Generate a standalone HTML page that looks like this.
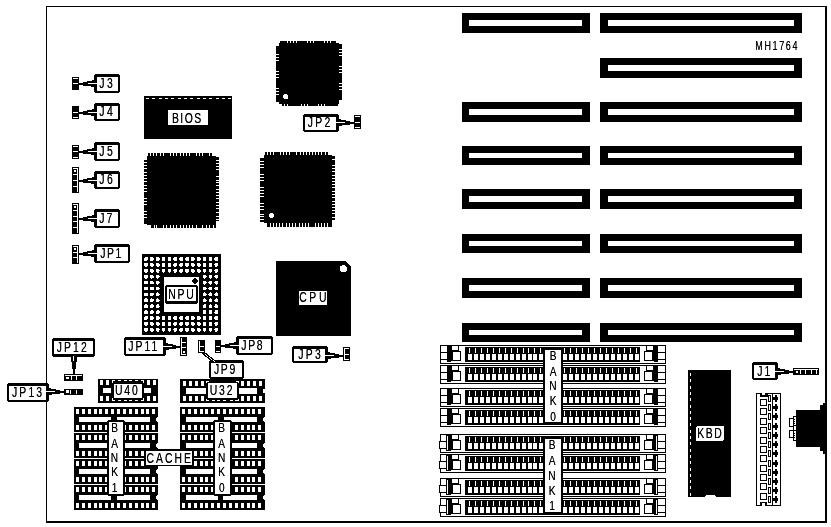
<!DOCTYPE html>
<html><head><meta charset="utf-8"><style>
html,body{margin:0;padding:0;background:#fff;}
svg{display:block;}
text{font-family:"Liberation Sans",sans-serif;}
</style></head><body>
<svg width="831" height="527" viewBox="0 0 831 527" shape-rendering="crispEdges">
<defs><filter id="bin" x="0" y="0" width="831" height="527" filterUnits="userSpaceOnUse" color-interpolation-filters="sRGB">
<feColorMatrix type="matrix" values="0.3 0.59 0.11 0 0  0.3 0.59 0.11 0 0  0.3 0.59 0.11 0 0  0 0 0 1 0"/>
<feComponentTransfer><feFuncR type="gamma" amplitude="1" exponent="1.6" offset="0"/><feFuncG type="gamma" amplitude="1" exponent="1.6" offset="0"/><feFuncB type="gamma" amplitude="1" exponent="1.6" offset="0"/></feComponentTransfer>
</filter></defs>
<g filter="url(#bin)">
<rect x="0" y="0" width="831" height="527" fill="#fff"/>
<rect x="46" y="6" width="781" height="1" fill="#000"/>
<rect x="46" y="6" width="1" height="517" fill="#000"/>
<rect x="825" y="6" width="2" height="517" fill="#000"/>
<rect x="46" y="521" width="781" height="2" fill="#000"/>
<rect x="462" y="13" width="128" height="20" fill="#000"/>
<rect x="469" y="20" width="113" height="6" fill="#fff"/>
<rect x="600" y="13" width="202" height="20" fill="#000"/>
<rect x="608" y="20" width="186" height="6" fill="#fff"/>
<rect x="600" y="58" width="202" height="20" fill="#000"/>
<rect x="608" y="65" width="186" height="6" fill="#fff"/>
<rect x="462" y="102" width="128" height="20" fill="#000"/>
<rect x="469" y="109" width="113" height="6" fill="#fff"/>
<rect x="600" y="102" width="202" height="20" fill="#000"/>
<rect x="608" y="109" width="186" height="6" fill="#fff"/>
<rect x="462" y="146" width="128" height="19" fill="#000"/>
<rect x="469" y="153" width="113" height="5" fill="#fff"/>
<rect x="600" y="146" width="202" height="19" fill="#000"/>
<rect x="608" y="153" width="186" height="5" fill="#fff"/>
<rect x="462" y="189" width="128" height="20" fill="#000"/>
<rect x="469" y="196" width="113" height="6" fill="#fff"/>
<rect x="600" y="189" width="202" height="20" fill="#000"/>
<rect x="608" y="196" width="186" height="6" fill="#fff"/>
<rect x="462" y="234" width="128" height="19" fill="#000"/>
<rect x="469" y="241" width="113" height="5" fill="#fff"/>
<rect x="600" y="234" width="202" height="19" fill="#000"/>
<rect x="608" y="241" width="186" height="5" fill="#fff"/>
<rect x="462" y="278" width="128" height="20" fill="#000"/>
<rect x="469" y="285" width="113" height="6" fill="#fff"/>
<rect x="600" y="278" width="202" height="20" fill="#000"/>
<rect x="608" y="285" width="186" height="6" fill="#fff"/>
<rect x="462" y="323" width="128" height="19" fill="#000"/>
<rect x="469" y="330" width="113" height="5" fill="#fff"/>
<rect x="600" y="323" width="202" height="19" fill="#000"/>
<rect x="608" y="330" width="186" height="5" fill="#fff"/>
<text transform="translate(756,50) scale(0.72,1)" x="-1" y="0" textLength="58.5444" lengthAdjust="spacing" font-size="12.5" fill="#000" >MH1764</text>
<rect x="72" y="77" width="7" height="13" fill="#000"/>
<rect x="73" y="78" width="5" height="1" fill="#fff"/>
<rect x="73" y="83" width="5" height="1" fill="#fff"/>
<rect x="94" y="74" width="26" height="19" rx="3" fill="#000"/>
<rect x="97" y="77" width="21" height="14" fill="#fff"/>
<text transform="translate(100,88) scale(0.72,1)" x="-1" y="0" textLength="18.9611" lengthAdjust="spacing" font-size="14.5" fill="#000" >J3</text>
<polygon points="79,83 83,83 83,82 87,82 87,81 92,81 92,80 95,80 95,87 91,87 91,86 83,86 83,85 79,85" fill="#000"/>
<rect x="88" y="83" width="9" height="1" fill="#fff"/>
<rect x="72" y="106" width="7" height="13" fill="#000"/>
<rect x="73" y="112" width="5" height="1" fill="#fff"/>
<rect x="73" y="117" width="5" height="1" fill="#fff"/>
<rect x="94" y="103" width="26" height="18" rx="3" fill="#000"/>
<rect x="97" y="106" width="21" height="13" fill="#fff"/>
<text transform="translate(100,116) scale(0.72,1)" x="-1" y="0" textLength="18.9611" lengthAdjust="spacing" font-size="14.5" fill="#000" >J4</text>
<polygon points="79,112 83,112 83,111 87,111 87,110 92,110 92,109 95,109 95,116 91,116 91,115 83,115 83,114 79,114" fill="#000"/>
<rect x="88" y="112" width="9" height="1" fill="#fff"/>
<rect x="72" y="145" width="7" height="14" fill="#000"/>
<rect x="73" y="146" width="5" height="1" fill="#fff"/>
<rect x="73" y="151" width="5" height="1" fill="#fff"/>
<rect x="73" y="157" width="5" height="1" fill="#fff"/>
<rect x="94" y="142" width="26" height="19" rx="3" fill="#000"/>
<rect x="97" y="145" width="21" height="14" fill="#fff"/>
<text transform="translate(100,156) scale(0.72,1)" x="-1" y="0" textLength="18.9611" lengthAdjust="spacing" font-size="14.5" fill="#000" >J5</text>
<polygon points="79,151 83,151 83,150 87,150 87,149 92,149 92,148 95,148 95,155 91,155 91,154 83,154 83,153 79,153" fill="#000"/>
<rect x="88" y="151" width="9" height="1" fill="#fff"/>
<rect x="72" y="167" width="7" height="26" fill="#000"/>
<rect x="77" y="168" width="1" height="24" fill="#fff"/>
<rect x="73" y="168" width="5" height="1" fill="#fff"/>
<rect x="73" y="174" width="5" height="1" fill="#fff"/>
<rect x="73" y="180" width="5" height="1" fill="#fff"/>
<rect x="73" y="186" width="5" height="1" fill="#fff"/>
<rect x="74" y="170" width="2" height="2" fill="#fff"/>
<rect x="94" y="171" width="26" height="18" rx="3" fill="#000"/>
<rect x="97" y="174" width="21" height="13" fill="#fff"/>
<text transform="translate(100,184) scale(0.72,1)" x="-1" y="0" textLength="18.9611" lengthAdjust="spacing" font-size="14.5" fill="#000" >J6</text>
<polygon points="79,180 83,180 83,179 87,179 87,178 92,178 92,177 95,177 95,184 91,184 91,183 83,183 83,182 79,182" fill="#000"/>
<rect x="88" y="180" width="9" height="1" fill="#fff"/>
<rect x="72" y="203" width="7" height="31" fill="#000"/>
<rect x="77" y="204" width="1" height="29" fill="#fff"/>
<rect x="73" y="204" width="5" height="1" fill="#fff"/>
<rect x="73" y="210" width="5" height="1" fill="#fff"/>
<rect x="73" y="216" width="5" height="1" fill="#fff"/>
<rect x="73" y="221" width="5" height="1" fill="#fff"/>
<rect x="73" y="227" width="5" height="1" fill="#fff"/>
<rect x="74" y="206" width="2" height="2" fill="#fff"/>
<rect x="94" y="209" width="26" height="19" rx="3" fill="#000"/>
<rect x="97" y="212" width="21" height="14" fill="#fff"/>
<text transform="translate(100,223) scale(0.72,1)" x="-1" y="0" textLength="18.2667" lengthAdjust="spacing" font-size="14.5" fill="#000" >J7</text>
<polygon points="79,218 83,218 83,217 87,217 87,216 92,216 92,215 95,215 95,222 91,222 91,221 83,221 83,220 79,220" fill="#000"/>
<rect x="88" y="218" width="9" height="1" fill="#fff"/>
<rect x="72" y="245" width="7" height="19" fill="#000"/>
<rect x="77" y="246" width="1" height="17" fill="#fff"/>
<rect x="73" y="246" width="5" height="1" fill="#fff"/>
<rect x="73" y="252" width="5" height="1" fill="#fff"/>
<rect x="73" y="257" width="5" height="1" fill="#fff"/>
<rect x="74" y="248" width="2" height="2" fill="#fff"/>
<rect x="94" y="244" width="36" height="19" rx="3" fill="#000"/>
<rect x="97" y="247" width="31" height="14" fill="#fff"/>
<text transform="translate(101,258) scale(0.72,1)" x="-1" y="0" textLength="29.3778" lengthAdjust="spacing" font-size="14.5" fill="#000" >JP1</text>
<polygon points="79,253 83,253 83,252 87,252 87,251 92,251 92,250 95,250 95,257 91,257 91,256 83,256 83,255 79,255" fill="#000"/>
<rect x="88" y="253" width="9" height="1" fill="#fff"/>
<rect x="354" y="115" width="7" height="14" fill="#000"/>
<rect x="355" y="116" width="5" height="1" fill="#fff"/>
<rect x="355" y="122" width="5" height="1" fill="#fff"/>
<rect x="355" y="127" width="5" height="1" fill="#fff"/>
<rect x="303" y="114" width="36" height="18" rx="3" fill="#000"/>
<rect x="305" y="117" width="31" height="13" fill="#fff"/>
<text transform="translate(308.5,127) scale(0.72,1)" x="-1" y="0" textLength="31.4611" lengthAdjust="spacing" font-size="14.5" fill="#000" >JP2</text>
<polygon points="354,122 350,122 350,121 346,121 346,120 341,120 341,119 338,119 338,126 342,126 342,125 350,125 350,124 354,124" fill="#000"/>
<rect x="336" y="122" width="9" height="1" fill="#fff"/>
<rect x="144" y="96" width="88" height="43" fill="#000"/>
<rect x="146" y="98" width="3" height="1" fill="#fff"/>
<rect x="152" y="98" width="3" height="1" fill="#fff"/>
<rect x="159" y="98" width="3" height="1" fill="#fff"/>
<rect x="165" y="98" width="3" height="1" fill="#fff"/>
<rect x="171" y="98" width="3" height="1" fill="#fff"/>
<rect x="178" y="98" width="3" height="1" fill="#fff"/>
<rect x="184" y="98" width="3" height="1" fill="#fff"/>
<rect x="190" y="98" width="3" height="1" fill="#fff"/>
<rect x="197" y="98" width="3" height="1" fill="#fff"/>
<rect x="203" y="98" width="3" height="1" fill="#fff"/>
<rect x="209" y="98" width="3" height="1" fill="#fff"/>
<rect x="216" y="98" width="3" height="1" fill="#fff"/>
<rect x="222" y="98" width="3" height="1" fill="#fff"/>
<rect x="228" y="98" width="3" height="1" fill="#fff"/>
<rect x="168" y="110" width="40" height="15" fill="#fff"/>
<text transform="translate(172.7,123) scale(0.72,1)" x="-1" y="0" textLength="40.4889" lengthAdjust="spacing" font-size="14.5" fill="#000" >BIOS</text>
<rect x="279" y="43" width="60" height="61" fill="#000"/>
<rect x="280" y="41" width="56" height="2" fill="#000"/>
<rect x="287" y="41" width="1" height="2" fill="#fff"/>
<rect x="290" y="41" width="1" height="2" fill="#fff"/>
<rect x="293" y="41" width="1" height="2" fill="#fff"/>
<rect x="296" y="41" width="1" height="2" fill="#fff"/>
<rect x="307" y="41" width="1" height="2" fill="#fff"/>
<rect x="310" y="41" width="1" height="2" fill="#fff"/>
<rect x="313" y="41" width="1" height="2" fill="#fff"/>
<rect x="324" y="41" width="1" height="2" fill="#fff"/>
<rect x="327" y="41" width="1" height="2" fill="#fff"/>
<rect x="330" y="41" width="1" height="2" fill="#fff"/>
<rect x="282" y="104" width="56" height="2" fill="#000"/>
<rect x="284" y="104" width="1" height="2" fill="#fff"/>
<rect x="287" y="104" width="1" height="2" fill="#fff"/>
<rect x="301" y="104" width="1" height="2" fill="#fff"/>
<rect x="304" y="104" width="1" height="2" fill="#fff"/>
<rect x="307" y="104" width="1" height="2" fill="#fff"/>
<rect x="318" y="104" width="1" height="2" fill="#fff"/>
<rect x="321" y="104" width="1" height="2" fill="#fff"/>
<rect x="324" y="104" width="1" height="2" fill="#fff"/>
<rect x="276" y="46" width="3" height="56" fill="#000"/>
<rect x="276" y="54" width="3" height="1" fill="#fff"/>
<rect x="276" y="57" width="3" height="1" fill="#fff"/>
<rect x="276" y="60" width="3" height="1" fill="#fff"/>
<rect x="276" y="71" width="3" height="1" fill="#fff"/>
<rect x="276" y="74" width="3" height="1" fill="#fff"/>
<rect x="276" y="77" width="3" height="1" fill="#fff"/>
<rect x="276" y="88" width="3" height="1" fill="#fff"/>
<rect x="276" y="91" width="3" height="1" fill="#fff"/>
<rect x="276" y="94" width="3" height="1" fill="#fff"/>
<rect x="339" y="44" width="3" height="56" fill="#000"/>
<rect x="339" y="49" width="3" height="1" fill="#fff"/>
<rect x="339" y="52" width="3" height="1" fill="#fff"/>
<rect x="339" y="55" width="3" height="1" fill="#fff"/>
<rect x="339" y="66" width="3" height="1" fill="#fff"/>
<rect x="339" y="69" width="3" height="1" fill="#fff"/>
<rect x="339" y="72" width="3" height="1" fill="#fff"/>
<rect x="339" y="83" width="3" height="1" fill="#fff"/>
<rect x="339" y="86" width="3" height="1" fill="#fff"/>
<rect x="339" y="89" width="3" height="1" fill="#fff"/>
<circle cx="285.6" cy="96.6" r="2.6" fill="#fff"/>
<rect x="147" y="156" width="69" height="69" fill="#000"/>
<rect x="148" y="153" width="64" height="3" fill="#000"/>
<rect x="150" y="153" width="1" height="3" fill="#fff"/>
<rect x="153" y="153" width="1" height="3" fill="#fff"/>
<rect x="156" y="153" width="1" height="3" fill="#fff"/>
<rect x="160" y="153" width="1" height="3" fill="#fff"/>
<rect x="163" y="153" width="1" height="3" fill="#fff"/>
<rect x="170" y="153" width="1" height="3" fill="#fff"/>
<rect x="173" y="153" width="1" height="3" fill="#fff"/>
<rect x="176" y="153" width="1" height="3" fill="#fff"/>
<rect x="180" y="153" width="1" height="3" fill="#fff"/>
<rect x="183" y="153" width="1" height="3" fill="#fff"/>
<rect x="186" y="153" width="1" height="3" fill="#fff"/>
<rect x="189" y="153" width="1" height="3" fill="#fff"/>
<rect x="196" y="153" width="1" height="3" fill="#fff"/>
<rect x="199" y="153" width="1" height="3" fill="#fff"/>
<rect x="202" y="153" width="1" height="3" fill="#fff"/>
<rect x="209" y="153" width="1" height="3" fill="#fff"/>
<rect x="151" y="225" width="65" height="3" fill="#000"/>
<rect x="154" y="225" width="1" height="3" fill="#fff"/>
<rect x="156" y="225" width="1" height="3" fill="#fff"/>
<rect x="163" y="225" width="1" height="3" fill="#fff"/>
<rect x="166" y="225" width="1" height="3" fill="#fff"/>
<rect x="170" y="225" width="1" height="3" fill="#fff"/>
<rect x="173" y="225" width="1" height="3" fill="#fff"/>
<rect x="176" y="225" width="1" height="3" fill="#fff"/>
<rect x="180" y="225" width="1" height="3" fill="#fff"/>
<rect x="183" y="225" width="1" height="3" fill="#fff"/>
<rect x="186" y="225" width="1" height="3" fill="#fff"/>
<rect x="189" y="225" width="1" height="3" fill="#fff"/>
<rect x="192" y="225" width="1" height="3" fill="#fff"/>
<rect x="196" y="225" width="1" height="3" fill="#fff"/>
<rect x="202" y="225" width="1" height="3" fill="#fff"/>
<rect x="206" y="225" width="1" height="3" fill="#fff"/>
<rect x="209" y="225" width="1" height="3" fill="#fff"/>
<rect x="213" y="225" width="1" height="3" fill="#fff"/>
<rect x="144" y="160" width="3" height="64" fill="#000"/>
<rect x="144" y="162" width="3" height="1" fill="#fff"/>
<rect x="144" y="165" width="3" height="1" fill="#fff"/>
<rect x="144" y="168" width="3" height="1" fill="#fff"/>
<rect x="144" y="172" width="3" height="1" fill="#fff"/>
<rect x="144" y="175" width="3" height="1" fill="#fff"/>
<rect x="144" y="178" width="3" height="1" fill="#fff"/>
<rect x="144" y="181" width="3" height="1" fill="#fff"/>
<rect x="144" y="185" width="3" height="1" fill="#fff"/>
<rect x="144" y="188" width="3" height="1" fill="#fff"/>
<rect x="144" y="191" width="3" height="1" fill="#fff"/>
<rect x="144" y="198" width="3" height="1" fill="#fff"/>
<rect x="144" y="201" width="3" height="1" fill="#fff"/>
<rect x="144" y="204" width="3" height="1" fill="#fff"/>
<rect x="144" y="211" width="3" height="1" fill="#fff"/>
<rect x="144" y="214" width="3" height="1" fill="#fff"/>
<rect x="144" y="217" width="3" height="1" fill="#fff"/>
<rect x="216" y="157" width="3" height="64" fill="#000"/>
<rect x="216" y="160" width="3" height="1" fill="#fff"/>
<rect x="216" y="163" width="3" height="1" fill="#fff"/>
<rect x="216" y="166" width="3" height="1" fill="#fff"/>
<rect x="216" y="169" width="3" height="1" fill="#fff"/>
<rect x="216" y="176" width="3" height="1" fill="#fff"/>
<rect x="216" y="180" width="3" height="1" fill="#fff"/>
<rect x="216" y="182" width="3" height="1" fill="#fff"/>
<rect x="216" y="185" width="3" height="1" fill="#fff"/>
<rect x="216" y="189" width="3" height="1" fill="#fff"/>
<rect x="216" y="192" width="3" height="1" fill="#fff"/>
<rect x="216" y="195" width="3" height="1" fill="#fff"/>
<rect x="216" y="198" width="3" height="1" fill="#fff"/>
<rect x="216" y="202" width="3" height="1" fill="#fff"/>
<rect x="216" y="205" width="3" height="1" fill="#fff"/>
<rect x="216" y="208" width="3" height="1" fill="#fff"/>
<rect x="216" y="212" width="3" height="1" fill="#fff"/>
<rect x="216" y="216" width="3" height="1" fill="#fff"/>
<rect x="216" y="219" width="3" height="1" fill="#fff"/>
<rect x="264" y="155" width="68" height="68" fill="#000"/>
<rect x="265" y="152" width="63" height="3" fill="#000"/>
<rect x="267" y="152" width="1" height="3" fill="#fff"/>
<rect x="270" y="152" width="1" height="3" fill="#fff"/>
<rect x="273" y="152" width="1" height="3" fill="#fff"/>
<rect x="280" y="152" width="1" height="3" fill="#fff"/>
<rect x="283" y="152" width="1" height="3" fill="#fff"/>
<rect x="286" y="152" width="1" height="3" fill="#fff"/>
<rect x="289" y="152" width="1" height="3" fill="#fff"/>
<rect x="296" y="152" width="1" height="3" fill="#fff"/>
<rect x="300" y="152" width="1" height="3" fill="#fff"/>
<rect x="303" y="152" width="1" height="3" fill="#fff"/>
<rect x="306" y="152" width="1" height="3" fill="#fff"/>
<rect x="309" y="152" width="1" height="3" fill="#fff"/>
<rect x="312" y="152" width="1" height="3" fill="#fff"/>
<rect x="315" y="152" width="1" height="3" fill="#fff"/>
<rect x="318" y="152" width="1" height="3" fill="#fff"/>
<rect x="321" y="152" width="1" height="3" fill="#fff"/>
<rect x="325" y="152" width="1" height="3" fill="#fff"/>
<rect x="267" y="223" width="65" height="4" fill="#000"/>
<rect x="270" y="223" width="1" height="4" fill="#fff"/>
<rect x="273" y="223" width="1" height="4" fill="#fff"/>
<rect x="276" y="223" width="1" height="4" fill="#fff"/>
<rect x="279" y="223" width="1" height="4" fill="#fff"/>
<rect x="282" y="223" width="1" height="4" fill="#fff"/>
<rect x="286" y="223" width="1" height="4" fill="#fff"/>
<rect x="289" y="223" width="1" height="4" fill="#fff"/>
<rect x="292" y="223" width="1" height="4" fill="#fff"/>
<rect x="295" y="223" width="1" height="4" fill="#fff"/>
<rect x="299" y="223" width="1" height="4" fill="#fff"/>
<rect x="302" y="223" width="1" height="4" fill="#fff"/>
<rect x="305" y="223" width="1" height="4" fill="#fff"/>
<rect x="308" y="223" width="1" height="4" fill="#fff"/>
<rect x="315" y="223" width="1" height="4" fill="#fff"/>
<rect x="318" y="223" width="1" height="4" fill="#fff"/>
<rect x="321" y="223" width="1" height="4" fill="#fff"/>
<rect x="324" y="223" width="1" height="4" fill="#fff"/>
<rect x="327" y="223" width="1" height="4" fill="#fff"/>
<rect x="260" y="158" width="4" height="64" fill="#000"/>
<rect x="260" y="161" width="4" height="1" fill="#fff"/>
<rect x="260" y="164" width="4" height="1" fill="#fff"/>
<rect x="260" y="167" width="4" height="1" fill="#fff"/>
<rect x="260" y="174" width="4" height="1" fill="#fff"/>
<rect x="260" y="177" width="4" height="1" fill="#fff"/>
<rect x="260" y="180" width="4" height="1" fill="#fff"/>
<rect x="260" y="187" width="4" height="1" fill="#fff"/>
<rect x="260" y="190" width="4" height="1" fill="#fff"/>
<rect x="260" y="193" width="4" height="1" fill="#fff"/>
<rect x="260" y="196" width="4" height="1" fill="#fff"/>
<rect x="260" y="203" width="4" height="1" fill="#fff"/>
<rect x="260" y="206" width="4" height="1" fill="#fff"/>
<rect x="260" y="209" width="4" height="1" fill="#fff"/>
<rect x="260" y="214" width="4" height="1" fill="#fff"/>
<rect x="260" y="216" width="4" height="1" fill="#fff"/>
<rect x="260" y="219" width="4" height="1" fill="#fff"/>
<rect x="332" y="156" width="3" height="64" fill="#000"/>
<rect x="332" y="159" width="3" height="1" fill="#fff"/>
<rect x="332" y="165" width="3" height="1" fill="#fff"/>
<rect x="332" y="168" width="3" height="1" fill="#fff"/>
<rect x="332" y="171" width="3" height="1" fill="#fff"/>
<rect x="332" y="175" width="3" height="1" fill="#fff"/>
<rect x="332" y="178" width="3" height="1" fill="#fff"/>
<rect x="332" y="181" width="3" height="1" fill="#fff"/>
<rect x="332" y="184" width="3" height="1" fill="#fff"/>
<rect x="332" y="187" width="3" height="1" fill="#fff"/>
<rect x="332" y="191" width="3" height="1" fill="#fff"/>
<rect x="332" y="194" width="3" height="1" fill="#fff"/>
<rect x="332" y="197" width="3" height="1" fill="#fff"/>
<rect x="332" y="201" width="3" height="1" fill="#fff"/>
<rect x="332" y="204" width="3" height="1" fill="#fff"/>
<rect x="332" y="207" width="3" height="1" fill="#fff"/>
<rect x="332" y="210" width="3" height="1" fill="#fff"/>
<rect x="332" y="213" width="3" height="1" fill="#fff"/>
<rect x="332" y="217" width="3" height="1" fill="#fff"/>
<circle cx="271.5" cy="215.6" r="2.6" fill="#fff"/>
<rect x="142" y="254" width="79" height="81" fill="#000"/>
<circle cx="146" cy="259" r="2" fill="#fff"/>
<circle cx="146" cy="264.9" r="2" fill="#fff"/>
<circle cx="146" cy="270.8" r="2" fill="#fff"/>
<circle cx="146" cy="276.7" r="2" fill="#fff"/>
<circle cx="146" cy="282.6" r="2" fill="#fff"/>
<circle cx="146" cy="288.5" r="2" fill="#fff"/>
<circle cx="146" cy="294.4" r="2" fill="#fff"/>
<circle cx="146" cy="300.3" r="2" fill="#fff"/>
<circle cx="146" cy="306.2" r="2" fill="#fff"/>
<circle cx="146" cy="312.1" r="2" fill="#fff"/>
<circle cx="146" cy="318" r="2" fill="#fff"/>
<circle cx="146" cy="323.9" r="2" fill="#fff"/>
<circle cx="146" cy="329.8" r="2" fill="#fff"/>
<circle cx="151.86" cy="259" r="2" fill="#fff"/>
<circle cx="151.86" cy="264.9" r="2" fill="#fff"/>
<circle cx="151.86" cy="270.8" r="2" fill="#fff"/>
<circle cx="151.86" cy="276.7" r="2" fill="#fff"/>
<circle cx="151.86" cy="282.6" r="2" fill="#fff"/>
<circle cx="151.86" cy="288.5" r="2" fill="#fff"/>
<circle cx="151.86" cy="294.4" r="2" fill="#fff"/>
<circle cx="151.86" cy="300.3" r="2" fill="#fff"/>
<circle cx="151.86" cy="306.2" r="2" fill="#fff"/>
<circle cx="151.86" cy="312.1" r="2" fill="#fff"/>
<circle cx="151.86" cy="318" r="2" fill="#fff"/>
<circle cx="151.86" cy="323.9" r="2" fill="#fff"/>
<circle cx="151.86" cy="329.8" r="2" fill="#fff"/>
<circle cx="157.72" cy="259" r="2" fill="#fff"/>
<circle cx="157.72" cy="264.9" r="2" fill="#fff"/>
<circle cx="157.72" cy="270.8" r="2" fill="#fff"/>
<circle cx="157.72" cy="276.7" r="2" fill="#fff"/>
<circle cx="157.72" cy="282.6" r="2" fill="#fff"/>
<circle cx="157.72" cy="288.5" r="2" fill="#fff"/>
<circle cx="157.72" cy="294.4" r="2" fill="#fff"/>
<circle cx="157.72" cy="300.3" r="2" fill="#fff"/>
<circle cx="157.72" cy="306.2" r="2" fill="#fff"/>
<circle cx="157.72" cy="312.1" r="2" fill="#fff"/>
<circle cx="157.72" cy="318" r="2" fill="#fff"/>
<circle cx="157.72" cy="323.9" r="2" fill="#fff"/>
<circle cx="157.72" cy="329.8" r="2" fill="#fff"/>
<circle cx="163.58" cy="259" r="2" fill="#fff"/>
<circle cx="163.58" cy="264.9" r="2" fill="#fff"/>
<circle cx="163.58" cy="270.8" r="2" fill="#fff"/>
<circle cx="163.58" cy="318" r="2" fill="#fff"/>
<circle cx="163.58" cy="323.9" r="2" fill="#fff"/>
<circle cx="163.58" cy="329.8" r="2" fill="#fff"/>
<circle cx="169.44" cy="259" r="2" fill="#fff"/>
<circle cx="169.44" cy="264.9" r="2" fill="#fff"/>
<circle cx="169.44" cy="270.8" r="2" fill="#fff"/>
<circle cx="169.44" cy="318" r="2" fill="#fff"/>
<circle cx="169.44" cy="323.9" r="2" fill="#fff"/>
<circle cx="169.44" cy="329.8" r="2" fill="#fff"/>
<circle cx="175.3" cy="259" r="2" fill="#fff"/>
<circle cx="175.3" cy="264.9" r="2" fill="#fff"/>
<circle cx="175.3" cy="270.8" r="2" fill="#fff"/>
<circle cx="175.3" cy="318" r="2" fill="#fff"/>
<circle cx="175.3" cy="323.9" r="2" fill="#fff"/>
<circle cx="175.3" cy="329.8" r="2" fill="#fff"/>
<circle cx="181.16" cy="259" r="2" fill="#fff"/>
<circle cx="181.16" cy="264.9" r="2" fill="#fff"/>
<circle cx="181.16" cy="270.8" r="2" fill="#fff"/>
<circle cx="181.16" cy="318" r="2" fill="#fff"/>
<circle cx="181.16" cy="323.9" r="2" fill="#fff"/>
<circle cx="181.16" cy="329.8" r="2" fill="#fff"/>
<circle cx="187.02" cy="259" r="2" fill="#fff"/>
<circle cx="187.02" cy="264.9" r="2" fill="#fff"/>
<circle cx="187.02" cy="270.8" r="2" fill="#fff"/>
<circle cx="187.02" cy="318" r="2" fill="#fff"/>
<circle cx="187.02" cy="323.9" r="2" fill="#fff"/>
<circle cx="187.02" cy="329.8" r="2" fill="#fff"/>
<circle cx="192.88" cy="259" r="2" fill="#fff"/>
<circle cx="192.88" cy="264.9" r="2" fill="#fff"/>
<circle cx="192.88" cy="270.8" r="2" fill="#fff"/>
<circle cx="192.88" cy="318" r="2" fill="#fff"/>
<circle cx="192.88" cy="323.9" r="2" fill="#fff"/>
<circle cx="192.88" cy="329.8" r="2" fill="#fff"/>
<circle cx="198.74" cy="259" r="2" fill="#fff"/>
<circle cx="198.74" cy="264.9" r="2" fill="#fff"/>
<circle cx="198.74" cy="270.8" r="2" fill="#fff"/>
<circle cx="198.74" cy="318" r="2" fill="#fff"/>
<circle cx="198.74" cy="323.9" r="2" fill="#fff"/>
<circle cx="198.74" cy="329.8" r="2" fill="#fff"/>
<circle cx="204.6" cy="259" r="2" fill="#fff"/>
<circle cx="204.6" cy="264.9" r="2" fill="#fff"/>
<circle cx="204.6" cy="270.8" r="2" fill="#fff"/>
<circle cx="204.6" cy="276.7" r="2" fill="#fff"/>
<circle cx="204.6" cy="282.6" r="2" fill="#fff"/>
<circle cx="204.6" cy="288.5" r="2" fill="#fff"/>
<circle cx="204.6" cy="294.4" r="2" fill="#fff"/>
<circle cx="204.6" cy="300.3" r="2" fill="#fff"/>
<circle cx="204.6" cy="306.2" r="2" fill="#fff"/>
<circle cx="204.6" cy="312.1" r="2" fill="#fff"/>
<circle cx="204.6" cy="318" r="2" fill="#fff"/>
<circle cx="204.6" cy="323.9" r="2" fill="#fff"/>
<circle cx="204.6" cy="329.8" r="2" fill="#fff"/>
<circle cx="210.46" cy="259" r="2" fill="#fff"/>
<circle cx="210.46" cy="264.9" r="2" fill="#fff"/>
<circle cx="210.46" cy="270.8" r="2" fill="#fff"/>
<circle cx="210.46" cy="276.7" r="2" fill="#fff"/>
<circle cx="210.46" cy="282.6" r="2" fill="#fff"/>
<circle cx="210.46" cy="288.5" r="2" fill="#fff"/>
<circle cx="210.46" cy="294.4" r="2" fill="#fff"/>
<circle cx="210.46" cy="300.3" r="2" fill="#fff"/>
<circle cx="210.46" cy="306.2" r="2" fill="#fff"/>
<circle cx="210.46" cy="312.1" r="2" fill="#fff"/>
<circle cx="210.46" cy="318" r="2" fill="#fff"/>
<circle cx="210.46" cy="323.9" r="2" fill="#fff"/>
<circle cx="210.46" cy="329.8" r="2" fill="#fff"/>
<circle cx="216.32" cy="259" r="2" fill="#fff"/>
<circle cx="216.32" cy="264.9" r="2" fill="#fff"/>
<circle cx="216.32" cy="270.8" r="2" fill="#fff"/>
<circle cx="216.32" cy="276.7" r="2" fill="#fff"/>
<circle cx="216.32" cy="282.6" r="2" fill="#fff"/>
<circle cx="216.32" cy="288.5" r="2" fill="#fff"/>
<circle cx="216.32" cy="294.4" r="2" fill="#fff"/>
<circle cx="216.32" cy="300.3" r="2" fill="#fff"/>
<circle cx="216.32" cy="306.2" r="2" fill="#fff"/>
<circle cx="216.32" cy="312.1" r="2" fill="#fff"/>
<circle cx="216.32" cy="318" r="2" fill="#fff"/>
<circle cx="216.32" cy="323.9" r="2" fill="#fff"/>
<circle cx="216.32" cy="329.8" r="2" fill="#fff"/>
<rect x="164" y="277" width="35" height="35" fill="#fff"/>
<circle cx="195" cy="281" r="2.6" fill="#000"/>
<rect x="165" y="285" width="33" height="19" rx="3" fill="#000"/>
<rect x="167" y="287" width="29" height="14" fill="#fff"/>
<text transform="translate(169,298.5) scale(0.72,1)" x="-1" y="0" textLength="35.35" lengthAdjust="spacing" font-size="14.5" fill="#000" >NPU</text>
<polygon points="276,261 345,261 351,267 351,336 276,336" fill="#000"/>
<circle cx="343.5" cy="268.7" r="3.6" fill="#fff"/>
<rect x="299" y="291" width="28" height="14" fill="#fff"/>
<text transform="translate(300,302) scale(0.72,1)" x="-1" y="0" textLength="37.7111" lengthAdjust="spacing" font-size="14.5" fill="#000" >CPU</text>
<rect x="124" y="337" width="42" height="19" rx="3" fill="#000"/>
<rect x="126" y="340" width="37" height="14" fill="#fff"/>
<text transform="translate(129,351) scale(0.72,1)" x="-1" y="0" textLength="40.4889" lengthAdjust="spacing" font-size="14.5" fill="#000" >JP11</text>
<polygon points="180,346 176,346 176,345 173,345 173,344 168,344 168,343 165,343 165,350 169,350 169,349 176,349 176,348 180,348" fill="#000"/>
<rect x="163" y="346" width="9" height="1" fill="#fff"/>
<rect x="180" y="337" width="7" height="19" fill="#000"/>
<rect x="181" y="338" width="1" height="17" fill="#fff"/>
<rect x="182" y="342" width="4" height="1" fill="#fff"/>
<rect x="182" y="347" width="4" height="1" fill="#fff"/>
<rect x="182" y="354" width="4" height="1" fill="#fff"/>
<rect x="183" y="351" width="2" height="2" fill="#fff"/>
<rect x="198" y="340" width="7" height="13" fill="#000"/>
<rect x="199" y="341" width="1" height="11" fill="#fff"/>
<rect x="200" y="346" width="4" height="1" fill="#fff"/>
<rect x="200" y="351" width="4" height="1" fill="#fff"/>
<rect x="209" y="360" width="35" height="19" rx="3" fill="#000"/>
<rect x="211" y="363" width="31" height="14" fill="#fff"/>
<text transform="translate(214.6,374) scale(0.72,1)" x="-1" y="0" textLength="29.9333" lengthAdjust="spacing" font-size="14.5" fill="#000" >JP9</text>
<rect x="202" y="353" width="5" height="1" fill="#000"/>
<rect x="203" y="354" width="5" height="1" fill="#000"/>
<rect x="204" y="355" width="5" height="1" fill="#000"/>
<rect x="205" y="356" width="5" height="1" fill="#000"/>
<rect x="207" y="357" width="5" height="1" fill="#000"/>
<rect x="208" y="358" width="5" height="1" fill="#000"/>
<rect x="209" y="359" width="5" height="1" fill="#000"/>
<rect x="211" y="360" width="5" height="1" fill="#000"/>
<rect x="212" y="361" width="5" height="1" fill="#000"/>
<rect x="205" y="354" width="1" height="1" fill="#fff"/>
<rect x="206" y="355" width="1" height="1" fill="#fff"/>
<rect x="207" y="356" width="1" height="1" fill="#fff"/>
<rect x="209" y="357" width="1" height="1" fill="#fff"/>
<rect x="210" y="358" width="1" height="1" fill="#fff"/>
<rect x="211" y="359" width="1" height="1" fill="#fff"/>
<rect x="213" y="360" width="1" height="1" fill="#fff"/>
<rect x="214" y="361" width="1" height="1" fill="#fff"/>
<rect x="215" y="340" width="6" height="13" fill="#000"/>
<rect x="216" y="346" width="4" height="1" fill="#fff"/>
<rect x="216" y="351" width="4" height="1" fill="#fff"/>
<rect x="236" y="336" width="37" height="19" rx="3" fill="#000"/>
<rect x="239" y="339" width="32" height="14" fill="#fff"/>
<text transform="translate(242,350) scale(0.72,1)" x="-1" y="0" textLength="29.6556" lengthAdjust="spacing" font-size="14.5" fill="#000" >JP8</text>
<polygon points="221,345 225,345 225,344 229,344 229,343 234,343 234,342 237,342 237,349 233,349 233,348 225,348 225,347 221,347" fill="#000"/>
<rect x="230" y="345" width="9" height="1" fill="#fff"/>
<rect x="292" y="346" width="36" height="17" rx="3" fill="#000"/>
<rect x="294" y="349" width="31" height="12" fill="#fff"/>
<text transform="translate(299,358.6) scale(0.72,1)" x="-1" y="0" textLength="31.3222" lengthAdjust="spacing" font-size="14.5" fill="#000" >JP3</text>
<polygon points="343,355 339,355 339,354 335,354 335,353 330,353 330,352 327,352 327,359 331,359 331,358 339,358 339,357 343,357" fill="#000"/>
<rect x="325" y="355" width="9" height="1" fill="#fff"/>
<rect x="343" y="347" width="7" height="14" fill="#000"/>
<rect x="344" y="348" width="1" height="12" fill="#fff"/>
<rect x="345" y="348" width="4" height="1" fill="#fff"/>
<rect x="345" y="354" width="4" height="1" fill="#fff"/>
<rect x="345" y="359" width="4" height="1" fill="#fff"/>
<rect x="52" y="338" width="43" height="19" rx="3" fill="#000"/>
<rect x="54" y="341" width="39" height="13" fill="#fff"/>
<text transform="translate(57.5,352) scale(0.72,1)" x="-1" y="0" textLength="41.7389" lengthAdjust="spacing" font-size="14.5" fill="#000" >JP12</text>
<rect x="71" y="356" width="6" height="6" fill="#000"/>
<rect x="72" y="362" width="4" height="7" fill="#000"/>
<rect x="73" y="369" width="2" height="5" fill="#000"/>
<rect x="73" y="356" width="1" height="5" fill="#fff"/>
<rect x="64" y="374" width="19" height="7" fill="#000"/>
<rect x="65" y="375" width="17" height="1" fill="#fff"/>
<rect x="66" y="377" width="3" height="2" fill="#fff"/>
<rect x="71" y="376" width="1" height="4" fill="#fff"/>
<rect x="76" y="376" width="1" height="4" fill="#fff"/>
<rect x="7" y="383" width="42" height="19" rx="3" fill="#000"/>
<rect x="9" y="386" width="37" height="14" fill="#fff"/>
<text transform="translate(12.8,397) scale(0.72,1)" x="-1" y="0" textLength="41.7389" lengthAdjust="spacing" font-size="14.5" fill="#000" >JP13</text>
<polygon points="64,391 60,391 60,390 56,390 56,389 51,389 51,388 48,388 48,395 52,395 52,394 60,394 60,393 64,393" fill="#000"/>
<rect x="46" y="391" width="9" height="1" fill="#fff"/>
<rect x="64" y="389" width="19" height="6" fill="#000"/>
<rect x="66" y="390" width="3" height="3" fill="#fff"/>
<rect x="70" y="390" width="1" height="4" fill="#fff"/>
<rect x="76" y="390" width="1" height="4" fill="#fff"/>
<rect x="98" y="379" width="60" height="24" fill="#000"/>
<rect x="100" y="380" width="3" height="5" fill="#fff"/>
<rect x="100" y="396" width="3" height="5" fill="#fff"/>
<rect x="106" y="380" width="3" height="5" fill="#fff"/>
<rect x="106" y="396" width="3" height="5" fill="#fff"/>
<rect x="147" y="380" width="3" height="5" fill="#fff"/>
<rect x="147" y="396" width="3" height="5" fill="#fff"/>
<rect x="153" y="380" width="3" height="5" fill="#fff"/>
<rect x="153" y="396" width="3" height="5" fill="#fff"/>
<rect x="103" y="388" width="8" height="5" fill="#fff"/>
<rect x="144" y="388" width="7" height="5" fill="#fff"/>
<rect x="118" y="380" width="3" height="1" fill="#fff"/>
<rect x="118" y="400" width="3" height="1" fill="#fff"/>
<rect x="124" y="380" width="3" height="1" fill="#fff"/>
<rect x="124" y="400" width="3" height="1" fill="#fff"/>
<rect x="129" y="380" width="3" height="1" fill="#fff"/>
<rect x="129" y="400" width="3" height="1" fill="#fff"/>
<rect x="135" y="380" width="3" height="1" fill="#fff"/>
<rect x="135" y="400" width="3" height="1" fill="#fff"/>
<rect x="112" y="380" width="3" height="1" fill="#fff"/>
<rect x="112" y="380" width="1" height="3" fill="#fff"/>
<rect x="141" y="380" width="3" height="1" fill="#fff"/>
<rect x="143" y="380" width="1" height="3" fill="#fff"/>
<rect x="112" y="400" width="3" height="1" fill="#fff"/>
<rect x="112" y="398" width="1" height="3" fill="#fff"/>
<rect x="141" y="400" width="3" height="1" fill="#fff"/>
<rect x="143" y="398" width="1" height="3" fill="#fff"/>
<rect x="114" y="384" width="28" height="14" fill="#fff"/>
<text transform="translate(115.7,395) scale(0.72,1)" x="-1" y="0" textLength="31.6" lengthAdjust="spacing" font-size="14.5" fill="#000" >U40</text>
<rect x="180" y="379" width="85" height="24" fill="#000"/>
<rect x="183" y="381" width="3" height="5" fill="#fff"/>
<rect x="183" y="396" width="3" height="5" fill="#fff"/>
<rect x="189" y="381" width="3" height="5" fill="#fff"/>
<rect x="189" y="396" width="3" height="5" fill="#fff"/>
<rect x="195" y="381" width="3" height="5" fill="#fff"/>
<rect x="195" y="396" width="3" height="5" fill="#fff"/>
<rect x="201" y="381" width="3" height="5" fill="#fff"/>
<rect x="201" y="396" width="3" height="5" fill="#fff"/>
<rect x="241" y="381" width="3" height="5" fill="#fff"/>
<rect x="241" y="396" width="3" height="5" fill="#fff"/>
<rect x="247" y="381" width="3" height="5" fill="#fff"/>
<rect x="247" y="396" width="3" height="5" fill="#fff"/>
<rect x="253" y="381" width="3" height="5" fill="#fff"/>
<rect x="253" y="396" width="3" height="5" fill="#fff"/>
<rect x="259" y="381" width="3" height="5" fill="#fff"/>
<rect x="259" y="396" width="3" height="5" fill="#fff"/>
<rect x="186" y="388" width="20" height="6" fill="#fff"/>
<rect x="239" y="388" width="18" height="6" fill="#fff"/>
<circle cx="265.5" cy="391" r="2.5" fill="#fff"/>
<rect x="212" y="400" width="3" height="1" fill="#fff"/>
<rect x="217" y="400" width="3" height="1" fill="#fff"/>
<rect x="223" y="400" width="3" height="1" fill="#fff"/>
<rect x="230" y="400" width="3" height="1" fill="#fff"/>
<rect x="206" y="381" width="3" height="1" fill="#fff"/>
<rect x="206" y="381" width="1" height="2" fill="#fff"/>
<rect x="236" y="381" width="3" height="1" fill="#fff"/>
<rect x="238" y="381" width="1" height="2" fill="#fff"/>
<rect x="206" y="400" width="3" height="1" fill="#fff"/>
<rect x="206" y="399" width="1" height="2" fill="#fff"/>
<rect x="235" y="400" width="4" height="1" fill="#fff"/>
<rect x="238" y="399" width="1" height="2" fill="#fff"/>
<rect x="208" y="383" width="29" height="15" fill="#fff"/>
<text transform="translate(210.4,394.5) scale(0.72,1)" x="-1" y="0" textLength="31.8778" lengthAdjust="spacing" font-size="14.5" fill="#000" >U32</text>
<rect x="74" y="407" width="84" height="25" fill="#000"/>
<rect x="76" y="409" width="3" height="5" fill="#fff"/>
<rect x="76" y="425" width="3" height="5" fill="#fff"/>
<rect x="82" y="409" width="3" height="5" fill="#fff"/>
<rect x="82" y="425" width="3" height="5" fill="#fff"/>
<rect x="88" y="409" width="3" height="5" fill="#fff"/>
<rect x="88" y="425" width="3" height="5" fill="#fff"/>
<rect x="94" y="409" width="3" height="5" fill="#fff"/>
<rect x="94" y="425" width="3" height="5" fill="#fff"/>
<rect x="99" y="409" width="3" height="5" fill="#fff"/>
<rect x="99" y="425" width="3" height="5" fill="#fff"/>
<rect x="105" y="409" width="3" height="5" fill="#fff"/>
<rect x="105" y="425" width="3" height="5" fill="#fff"/>
<rect x="111" y="409" width="3" height="5" fill="#fff"/>
<rect x="111" y="425" width="3" height="5" fill="#fff"/>
<rect x="117" y="409" width="3" height="5" fill="#fff"/>
<rect x="117" y="425" width="3" height="5" fill="#fff"/>
<rect x="123" y="409" width="3" height="5" fill="#fff"/>
<rect x="123" y="425" width="3" height="5" fill="#fff"/>
<rect x="129" y="409" width="3" height="5" fill="#fff"/>
<rect x="129" y="425" width="3" height="5" fill="#fff"/>
<rect x="135" y="409" width="3" height="5" fill="#fff"/>
<rect x="135" y="425" width="3" height="5" fill="#fff"/>
<rect x="141" y="409" width="3" height="5" fill="#fff"/>
<rect x="141" y="425" width="3" height="5" fill="#fff"/>
<rect x="146" y="409" width="3" height="5" fill="#fff"/>
<rect x="146" y="425" width="3" height="5" fill="#fff"/>
<rect x="152" y="409" width="3" height="5" fill="#fff"/>
<rect x="152" y="425" width="3" height="5" fill="#fff"/>
<rect x="79" y="417" width="71" height="5" fill="#fff"/>
<circle cx="158.5" cy="419.5" r="2.5" fill="#fff"/>
<rect x="180" y="407" width="85" height="25" fill="#000"/>
<rect x="182" y="409" width="3" height="5" fill="#fff"/>
<rect x="182" y="425" width="3" height="5" fill="#fff"/>
<rect x="188" y="409" width="3" height="5" fill="#fff"/>
<rect x="188" y="425" width="3" height="5" fill="#fff"/>
<rect x="194" y="409" width="3" height="5" fill="#fff"/>
<rect x="194" y="425" width="3" height="5" fill="#fff"/>
<rect x="200" y="409" width="3" height="5" fill="#fff"/>
<rect x="200" y="425" width="3" height="5" fill="#fff"/>
<rect x="205" y="409" width="3" height="5" fill="#fff"/>
<rect x="205" y="425" width="3" height="5" fill="#fff"/>
<rect x="211" y="409" width="3" height="5" fill="#fff"/>
<rect x="211" y="425" width="3" height="5" fill="#fff"/>
<rect x="217" y="409" width="3" height="5" fill="#fff"/>
<rect x="217" y="425" width="3" height="5" fill="#fff"/>
<rect x="223" y="409" width="3" height="5" fill="#fff"/>
<rect x="223" y="425" width="3" height="5" fill="#fff"/>
<rect x="229" y="409" width="3" height="5" fill="#fff"/>
<rect x="229" y="425" width="3" height="5" fill="#fff"/>
<rect x="235" y="409" width="3" height="5" fill="#fff"/>
<rect x="235" y="425" width="3" height="5" fill="#fff"/>
<rect x="241" y="409" width="3" height="5" fill="#fff"/>
<rect x="241" y="425" width="3" height="5" fill="#fff"/>
<rect x="247" y="409" width="3" height="5" fill="#fff"/>
<rect x="247" y="425" width="3" height="5" fill="#fff"/>
<rect x="252" y="409" width="3" height="5" fill="#fff"/>
<rect x="252" y="425" width="3" height="5" fill="#fff"/>
<rect x="258" y="409" width="3" height="5" fill="#fff"/>
<rect x="258" y="425" width="3" height="5" fill="#fff"/>
<rect x="186" y="417" width="71" height="5" fill="#fff"/>
<circle cx="265.5" cy="419.5" r="2.5" fill="#fff"/>
<rect x="74" y="433" width="84" height="25" fill="#000"/>
<rect x="76" y="435" width="3" height="5" fill="#fff"/>
<rect x="76" y="451" width="3" height="5" fill="#fff"/>
<rect x="82" y="435" width="3" height="5" fill="#fff"/>
<rect x="82" y="451" width="3" height="5" fill="#fff"/>
<rect x="88" y="435" width="3" height="5" fill="#fff"/>
<rect x="88" y="451" width="3" height="5" fill="#fff"/>
<rect x="94" y="435" width="3" height="5" fill="#fff"/>
<rect x="94" y="451" width="3" height="5" fill="#fff"/>
<rect x="99" y="435" width="3" height="5" fill="#fff"/>
<rect x="99" y="451" width="3" height="5" fill="#fff"/>
<rect x="105" y="435" width="3" height="5" fill="#fff"/>
<rect x="105" y="451" width="3" height="5" fill="#fff"/>
<rect x="111" y="435" width="3" height="5" fill="#fff"/>
<rect x="111" y="451" width="3" height="5" fill="#fff"/>
<rect x="117" y="435" width="3" height="5" fill="#fff"/>
<rect x="117" y="451" width="3" height="5" fill="#fff"/>
<rect x="123" y="435" width="3" height="5" fill="#fff"/>
<rect x="123" y="451" width="3" height="5" fill="#fff"/>
<rect x="129" y="435" width="3" height="5" fill="#fff"/>
<rect x="129" y="451" width="3" height="5" fill="#fff"/>
<rect x="135" y="435" width="3" height="5" fill="#fff"/>
<rect x="135" y="451" width="3" height="5" fill="#fff"/>
<rect x="141" y="435" width="3" height="5" fill="#fff"/>
<rect x="141" y="451" width="3" height="5" fill="#fff"/>
<rect x="146" y="435" width="3" height="5" fill="#fff"/>
<rect x="146" y="451" width="3" height="5" fill="#fff"/>
<rect x="152" y="435" width="3" height="5" fill="#fff"/>
<rect x="152" y="451" width="3" height="5" fill="#fff"/>
<rect x="79" y="443" width="71" height="5" fill="#fff"/>
<circle cx="158.5" cy="445.5" r="2.5" fill="#fff"/>
<rect x="180" y="433" width="85" height="25" fill="#000"/>
<rect x="182" y="435" width="3" height="5" fill="#fff"/>
<rect x="182" y="451" width="3" height="5" fill="#fff"/>
<rect x="188" y="435" width="3" height="5" fill="#fff"/>
<rect x="188" y="451" width="3" height="5" fill="#fff"/>
<rect x="194" y="435" width="3" height="5" fill="#fff"/>
<rect x="194" y="451" width="3" height="5" fill="#fff"/>
<rect x="200" y="435" width="3" height="5" fill="#fff"/>
<rect x="200" y="451" width="3" height="5" fill="#fff"/>
<rect x="205" y="435" width="3" height="5" fill="#fff"/>
<rect x="205" y="451" width="3" height="5" fill="#fff"/>
<rect x="211" y="435" width="3" height="5" fill="#fff"/>
<rect x="211" y="451" width="3" height="5" fill="#fff"/>
<rect x="217" y="435" width="3" height="5" fill="#fff"/>
<rect x="217" y="451" width="3" height="5" fill="#fff"/>
<rect x="223" y="435" width="3" height="5" fill="#fff"/>
<rect x="223" y="451" width="3" height="5" fill="#fff"/>
<rect x="229" y="435" width="3" height="5" fill="#fff"/>
<rect x="229" y="451" width="3" height="5" fill="#fff"/>
<rect x="235" y="435" width="3" height="5" fill="#fff"/>
<rect x="235" y="451" width="3" height="5" fill="#fff"/>
<rect x="241" y="435" width="3" height="5" fill="#fff"/>
<rect x="241" y="451" width="3" height="5" fill="#fff"/>
<rect x="247" y="435" width="3" height="5" fill="#fff"/>
<rect x="247" y="451" width="3" height="5" fill="#fff"/>
<rect x="252" y="435" width="3" height="5" fill="#fff"/>
<rect x="252" y="451" width="3" height="5" fill="#fff"/>
<rect x="258" y="435" width="3" height="5" fill="#fff"/>
<rect x="258" y="451" width="3" height="5" fill="#fff"/>
<rect x="186" y="443" width="71" height="5" fill="#fff"/>
<circle cx="265.5" cy="445.5" r="2.5" fill="#fff"/>
<rect x="74" y="459" width="84" height="25" fill="#000"/>
<rect x="76" y="461" width="3" height="5" fill="#fff"/>
<rect x="76" y="477" width="3" height="5" fill="#fff"/>
<rect x="82" y="461" width="3" height="5" fill="#fff"/>
<rect x="82" y="477" width="3" height="5" fill="#fff"/>
<rect x="88" y="461" width="3" height="5" fill="#fff"/>
<rect x="88" y="477" width="3" height="5" fill="#fff"/>
<rect x="94" y="461" width="3" height="5" fill="#fff"/>
<rect x="94" y="477" width="3" height="5" fill="#fff"/>
<rect x="99" y="461" width="3" height="5" fill="#fff"/>
<rect x="99" y="477" width="3" height="5" fill="#fff"/>
<rect x="105" y="461" width="3" height="5" fill="#fff"/>
<rect x="105" y="477" width="3" height="5" fill="#fff"/>
<rect x="111" y="461" width="3" height="5" fill="#fff"/>
<rect x="111" y="477" width="3" height="5" fill="#fff"/>
<rect x="117" y="461" width="3" height="5" fill="#fff"/>
<rect x="117" y="477" width="3" height="5" fill="#fff"/>
<rect x="123" y="461" width="3" height="5" fill="#fff"/>
<rect x="123" y="477" width="3" height="5" fill="#fff"/>
<rect x="129" y="461" width="3" height="5" fill="#fff"/>
<rect x="129" y="477" width="3" height="5" fill="#fff"/>
<rect x="135" y="461" width="3" height="5" fill="#fff"/>
<rect x="135" y="477" width="3" height="5" fill="#fff"/>
<rect x="141" y="461" width="3" height="5" fill="#fff"/>
<rect x="141" y="477" width="3" height="5" fill="#fff"/>
<rect x="146" y="461" width="3" height="5" fill="#fff"/>
<rect x="146" y="477" width="3" height="5" fill="#fff"/>
<rect x="152" y="461" width="3" height="5" fill="#fff"/>
<rect x="152" y="477" width="3" height="5" fill="#fff"/>
<rect x="79" y="469" width="71" height="5" fill="#fff"/>
<circle cx="158.5" cy="471.5" r="2.5" fill="#fff"/>
<rect x="180" y="459" width="85" height="25" fill="#000"/>
<rect x="182" y="461" width="3" height="5" fill="#fff"/>
<rect x="182" y="477" width="3" height="5" fill="#fff"/>
<rect x="188" y="461" width="3" height="5" fill="#fff"/>
<rect x="188" y="477" width="3" height="5" fill="#fff"/>
<rect x="194" y="461" width="3" height="5" fill="#fff"/>
<rect x="194" y="477" width="3" height="5" fill="#fff"/>
<rect x="200" y="461" width="3" height="5" fill="#fff"/>
<rect x="200" y="477" width="3" height="5" fill="#fff"/>
<rect x="205" y="461" width="3" height="5" fill="#fff"/>
<rect x="205" y="477" width="3" height="5" fill="#fff"/>
<rect x="211" y="461" width="3" height="5" fill="#fff"/>
<rect x="211" y="477" width="3" height="5" fill="#fff"/>
<rect x="217" y="461" width="3" height="5" fill="#fff"/>
<rect x="217" y="477" width="3" height="5" fill="#fff"/>
<rect x="223" y="461" width="3" height="5" fill="#fff"/>
<rect x="223" y="477" width="3" height="5" fill="#fff"/>
<rect x="229" y="461" width="3" height="5" fill="#fff"/>
<rect x="229" y="477" width="3" height="5" fill="#fff"/>
<rect x="235" y="461" width="3" height="5" fill="#fff"/>
<rect x="235" y="477" width="3" height="5" fill="#fff"/>
<rect x="241" y="461" width="3" height="5" fill="#fff"/>
<rect x="241" y="477" width="3" height="5" fill="#fff"/>
<rect x="247" y="461" width="3" height="5" fill="#fff"/>
<rect x="247" y="477" width="3" height="5" fill="#fff"/>
<rect x="252" y="461" width="3" height="5" fill="#fff"/>
<rect x="252" y="477" width="3" height="5" fill="#fff"/>
<rect x="258" y="461" width="3" height="5" fill="#fff"/>
<rect x="258" y="477" width="3" height="5" fill="#fff"/>
<rect x="186" y="469" width="71" height="5" fill="#fff"/>
<circle cx="265.5" cy="471.5" r="2.5" fill="#fff"/>
<rect x="74" y="485" width="84" height="25" fill="#000"/>
<rect x="76" y="487" width="3" height="5" fill="#fff"/>
<rect x="76" y="503" width="3" height="5" fill="#fff"/>
<rect x="82" y="487" width="3" height="5" fill="#fff"/>
<rect x="82" y="503" width="3" height="5" fill="#fff"/>
<rect x="88" y="487" width="3" height="5" fill="#fff"/>
<rect x="88" y="503" width="3" height="5" fill="#fff"/>
<rect x="94" y="487" width="3" height="5" fill="#fff"/>
<rect x="94" y="503" width="3" height="5" fill="#fff"/>
<rect x="99" y="487" width="3" height="5" fill="#fff"/>
<rect x="99" y="503" width="3" height="5" fill="#fff"/>
<rect x="105" y="487" width="3" height="5" fill="#fff"/>
<rect x="105" y="503" width="3" height="5" fill="#fff"/>
<rect x="111" y="487" width="3" height="5" fill="#fff"/>
<rect x="111" y="503" width="3" height="5" fill="#fff"/>
<rect x="117" y="487" width="3" height="5" fill="#fff"/>
<rect x="117" y="503" width="3" height="5" fill="#fff"/>
<rect x="123" y="487" width="3" height="5" fill="#fff"/>
<rect x="123" y="503" width="3" height="5" fill="#fff"/>
<rect x="129" y="487" width="3" height="5" fill="#fff"/>
<rect x="129" y="503" width="3" height="5" fill="#fff"/>
<rect x="135" y="487" width="3" height="5" fill="#fff"/>
<rect x="135" y="503" width="3" height="5" fill="#fff"/>
<rect x="141" y="487" width="3" height="5" fill="#fff"/>
<rect x="141" y="503" width="3" height="5" fill="#fff"/>
<rect x="146" y="487" width="3" height="5" fill="#fff"/>
<rect x="146" y="503" width="3" height="5" fill="#fff"/>
<rect x="152" y="487" width="3" height="5" fill="#fff"/>
<rect x="152" y="503" width="3" height="5" fill="#fff"/>
<rect x="79" y="495" width="71" height="5" fill="#fff"/>
<circle cx="158.5" cy="497.5" r="2.5" fill="#fff"/>
<rect x="180" y="485" width="85" height="25" fill="#000"/>
<rect x="182" y="487" width="3" height="5" fill="#fff"/>
<rect x="182" y="503" width="3" height="5" fill="#fff"/>
<rect x="188" y="487" width="3" height="5" fill="#fff"/>
<rect x="188" y="503" width="3" height="5" fill="#fff"/>
<rect x="194" y="487" width="3" height="5" fill="#fff"/>
<rect x="194" y="503" width="3" height="5" fill="#fff"/>
<rect x="200" y="487" width="3" height="5" fill="#fff"/>
<rect x="200" y="503" width="3" height="5" fill="#fff"/>
<rect x="205" y="487" width="3" height="5" fill="#fff"/>
<rect x="205" y="503" width="3" height="5" fill="#fff"/>
<rect x="211" y="487" width="3" height="5" fill="#fff"/>
<rect x="211" y="503" width="3" height="5" fill="#fff"/>
<rect x="217" y="487" width="3" height="5" fill="#fff"/>
<rect x="217" y="503" width="3" height="5" fill="#fff"/>
<rect x="223" y="487" width="3" height="5" fill="#fff"/>
<rect x="223" y="503" width="3" height="5" fill="#fff"/>
<rect x="229" y="487" width="3" height="5" fill="#fff"/>
<rect x="229" y="503" width="3" height="5" fill="#fff"/>
<rect x="235" y="487" width="3" height="5" fill="#fff"/>
<rect x="235" y="503" width="3" height="5" fill="#fff"/>
<rect x="241" y="487" width="3" height="5" fill="#fff"/>
<rect x="241" y="503" width="3" height="5" fill="#fff"/>
<rect x="247" y="487" width="3" height="5" fill="#fff"/>
<rect x="247" y="503" width="3" height="5" fill="#fff"/>
<rect x="252" y="487" width="3" height="5" fill="#fff"/>
<rect x="252" y="503" width="3" height="5" fill="#fff"/>
<rect x="258" y="487" width="3" height="5" fill="#fff"/>
<rect x="258" y="503" width="3" height="5" fill="#fff"/>
<rect x="186" y="495" width="71" height="5" fill="#fff"/>
<circle cx="265.5" cy="497.5" r="2.5" fill="#fff"/>
<rect x="111" y="414" width="6" height="7" fill="#000"/>
<rect x="111" y="494" width="6" height="8" fill="#000"/>
<rect x="107" y="420" width="18" height="76" rx="3" fill="#000"/>
<rect x="109" y="422" width="14" height="72" fill="#fff"/>
<text transform="translate(114.5,431.6) scale(0.78,1)" text-anchor="middle" font-size="13">B</text>
<text transform="translate(114.5,447.6) scale(0.78,1)" text-anchor="middle" font-size="13">A</text>
<text transform="translate(114.5,461.9) scale(0.78,1)" text-anchor="middle" font-size="13">N</text>
<text transform="translate(114.5,476.2) scale(0.78,1)" text-anchor="middle" font-size="13">K</text>
<text transform="translate(114.5,492.2) scale(0.78,1)" text-anchor="middle" font-size="13">1</text>
<rect x="218" y="414" width="6" height="7" fill="#000"/>
<rect x="218" y="494" width="5" height="8" fill="#000"/>
<rect x="213" y="420" width="19" height="76" rx="3" fill="#000"/>
<rect x="215" y="422" width="15" height="72" fill="#fff"/>
<text transform="translate(221.7,431.6) scale(0.78,1)" text-anchor="middle" font-size="13">B</text>
<text transform="translate(221.7,447.6) scale(0.78,1)" text-anchor="middle" font-size="13">A</text>
<text transform="translate(221.7,461.9) scale(0.78,1)" text-anchor="middle" font-size="13">N</text>
<text transform="translate(221.7,476.2) scale(0.78,1)" text-anchor="middle" font-size="13">K</text>
<text transform="translate(221.7,492.2) scale(0.78,1)" text-anchor="middle" font-size="13">0</text>
<rect x="144" y="449" width="50" height="17" fill="#000"/>
<rect x="146" y="451" width="46" height="14" fill="#fff"/>
<text transform="translate(147.2,463) scale(0.72,1)" x="-1" y="0" textLength="61.7389" lengthAdjust="spacing" font-size="14.5" fill="#000" >CACHE</text>
<rect x="440" y="345" width="226" height="19" fill="#000"/>
<rect x="441" y="346" width="224" height="17" fill="#fff"/>
<rect x="441" y="352" width="6" height="1" fill="#000"/>
<rect x="441" y="359" width="6" height="1" fill="#000"/>
<rect x="447" y="346" width="4" height="16" fill="#000"/>
<rect x="451" y="346" width="8" height="6" fill="#000"/>
<rect x="451" y="351" width="10" height="10" fill="#000"/>
<rect x="452" y="346" width="6" height="4" fill="#fff"/>
<rect x="453" y="352" width="7" height="8" fill="#fff"/>
<rect x="465" y="347" width="175" height="15" fill="#000"/>
<rect x="469" y="348" width="1" height="5" fill="#fff"/>
<rect x="468" y="354" width="4" height="6" fill="#fff"/>
<rect x="475" y="348" width="1" height="5" fill="#fff"/>
<rect x="474" y="354" width="4" height="6" fill="#fff"/>
<rect x="481" y="348" width="1" height="5" fill="#fff"/>
<rect x="480" y="354" width="4" height="6" fill="#fff"/>
<rect x="487" y="348" width="1" height="5" fill="#fff"/>
<rect x="486" y="354" width="4" height="6" fill="#fff"/>
<rect x="493" y="348" width="1" height="5" fill="#fff"/>
<rect x="492" y="354" width="4" height="6" fill="#fff"/>
<rect x="499" y="348" width="1" height="5" fill="#fff"/>
<rect x="498" y="354" width="4" height="6" fill="#fff"/>
<rect x="505" y="348" width="1" height="5" fill="#fff"/>
<rect x="504" y="354" width="4" height="6" fill="#fff"/>
<rect x="511" y="348" width="1" height="5" fill="#fff"/>
<rect x="510" y="354" width="4" height="6" fill="#fff"/>
<rect x="517" y="348" width="1" height="5" fill="#fff"/>
<rect x="516" y="354" width="4" height="6" fill="#fff"/>
<rect x="523" y="348" width="1" height="5" fill="#fff"/>
<rect x="522" y="354" width="4" height="6" fill="#fff"/>
<rect x="528" y="348" width="1" height="5" fill="#fff"/>
<rect x="528" y="354" width="4" height="6" fill="#fff"/>
<rect x="534" y="348" width="1" height="5" fill="#fff"/>
<rect x="533" y="354" width="4" height="6" fill="#fff"/>
<rect x="540" y="348" width="1" height="5" fill="#fff"/>
<rect x="539" y="354" width="4" height="6" fill="#fff"/>
<rect x="546" y="348" width="1" height="5" fill="#fff"/>
<rect x="545" y="354" width="4" height="6" fill="#fff"/>
<rect x="552" y="348" width="1" height="5" fill="#fff"/>
<rect x="551" y="354" width="4" height="6" fill="#fff"/>
<rect x="558" y="348" width="1" height="5" fill="#fff"/>
<rect x="557" y="354" width="4" height="6" fill="#fff"/>
<rect x="564" y="348" width="1" height="5" fill="#fff"/>
<rect x="563" y="354" width="4" height="6" fill="#fff"/>
<rect x="570" y="348" width="1" height="5" fill="#fff"/>
<rect x="569" y="354" width="4" height="6" fill="#fff"/>
<rect x="576" y="348" width="1" height="5" fill="#fff"/>
<rect x="575" y="354" width="4" height="6" fill="#fff"/>
<rect x="582" y="348" width="1" height="5" fill="#fff"/>
<rect x="581" y="354" width="4" height="6" fill="#fff"/>
<rect x="588" y="348" width="1" height="5" fill="#fff"/>
<rect x="587" y="354" width="4" height="6" fill="#fff"/>
<rect x="594" y="348" width="1" height="5" fill="#fff"/>
<rect x="593" y="354" width="4" height="6" fill="#fff"/>
<rect x="600" y="348" width="1" height="5" fill="#fff"/>
<rect x="599" y="354" width="4" height="6" fill="#fff"/>
<rect x="606" y="348" width="1" height="5" fill="#fff"/>
<rect x="605" y="354" width="4" height="6" fill="#fff"/>
<rect x="612" y="348" width="1" height="5" fill="#fff"/>
<rect x="611" y="354" width="4" height="6" fill="#fff"/>
<rect x="618" y="348" width="1" height="5" fill="#fff"/>
<rect x="617" y="354" width="4" height="6" fill="#fff"/>
<rect x="624" y="348" width="1" height="5" fill="#fff"/>
<rect x="623" y="354" width="4" height="6" fill="#fff"/>
<rect x="630" y="348" width="1" height="5" fill="#fff"/>
<rect x="629" y="354" width="4" height="6" fill="#fff"/>
<rect x="636" y="348" width="1" height="5" fill="#fff"/>
<rect x="635" y="354" width="4" height="6" fill="#fff"/>
<rect x="646" y="346" width="8" height="6" fill="#000"/>
<rect x="644" y="351" width="10" height="10" fill="#000"/>
<rect x="647" y="346" width="6" height="4" fill="#fff"/>
<rect x="645" y="352" width="7" height="8" fill="#fff"/>
<rect x="654" y="346" width="4" height="16" fill="#000"/>
<rect x="658" y="352" width="7" height="1" fill="#000"/>
<rect x="658" y="359" width="7" height="1" fill="#000"/>
<rect x="440" y="365" width="226" height="19" fill="#000"/>
<rect x="441" y="366" width="224" height="17" fill="#fff"/>
<rect x="441" y="372" width="6" height="1" fill="#000"/>
<rect x="441" y="379" width="6" height="1" fill="#000"/>
<rect x="447" y="366" width="4" height="16" fill="#000"/>
<rect x="451" y="366" width="8" height="6" fill="#000"/>
<rect x="451" y="371" width="10" height="10" fill="#000"/>
<rect x="452" y="366" width="6" height="4" fill="#fff"/>
<rect x="453" y="372" width="7" height="8" fill="#fff"/>
<rect x="465" y="367" width="175" height="15" fill="#000"/>
<rect x="469" y="368" width="1" height="5" fill="#fff"/>
<rect x="468" y="374" width="4" height="6" fill="#fff"/>
<rect x="475" y="368" width="1" height="5" fill="#fff"/>
<rect x="474" y="374" width="4" height="6" fill="#fff"/>
<rect x="481" y="368" width="1" height="5" fill="#fff"/>
<rect x="480" y="374" width="4" height="6" fill="#fff"/>
<rect x="487" y="368" width="1" height="5" fill="#fff"/>
<rect x="486" y="374" width="4" height="6" fill="#fff"/>
<rect x="493" y="368" width="1" height="5" fill="#fff"/>
<rect x="492" y="374" width="4" height="6" fill="#fff"/>
<rect x="499" y="368" width="1" height="5" fill="#fff"/>
<rect x="498" y="374" width="4" height="6" fill="#fff"/>
<rect x="505" y="368" width="1" height="5" fill="#fff"/>
<rect x="504" y="374" width="4" height="6" fill="#fff"/>
<rect x="511" y="368" width="1" height="5" fill="#fff"/>
<rect x="510" y="374" width="4" height="6" fill="#fff"/>
<rect x="517" y="368" width="1" height="5" fill="#fff"/>
<rect x="516" y="374" width="4" height="6" fill="#fff"/>
<rect x="523" y="368" width="1" height="5" fill="#fff"/>
<rect x="522" y="374" width="4" height="6" fill="#fff"/>
<rect x="528" y="368" width="1" height="5" fill="#fff"/>
<rect x="528" y="374" width="4" height="6" fill="#fff"/>
<rect x="534" y="368" width="1" height="5" fill="#fff"/>
<rect x="533" y="374" width="4" height="6" fill="#fff"/>
<rect x="540" y="368" width="1" height="5" fill="#fff"/>
<rect x="539" y="374" width="4" height="6" fill="#fff"/>
<rect x="546" y="368" width="1" height="5" fill="#fff"/>
<rect x="545" y="374" width="4" height="6" fill="#fff"/>
<rect x="552" y="368" width="1" height="5" fill="#fff"/>
<rect x="551" y="374" width="4" height="6" fill="#fff"/>
<rect x="558" y="368" width="1" height="5" fill="#fff"/>
<rect x="557" y="374" width="4" height="6" fill="#fff"/>
<rect x="564" y="368" width="1" height="5" fill="#fff"/>
<rect x="563" y="374" width="4" height="6" fill="#fff"/>
<rect x="570" y="368" width="1" height="5" fill="#fff"/>
<rect x="569" y="374" width="4" height="6" fill="#fff"/>
<rect x="576" y="368" width="1" height="5" fill="#fff"/>
<rect x="575" y="374" width="4" height="6" fill="#fff"/>
<rect x="582" y="368" width="1" height="5" fill="#fff"/>
<rect x="581" y="374" width="4" height="6" fill="#fff"/>
<rect x="588" y="368" width="1" height="5" fill="#fff"/>
<rect x="587" y="374" width="4" height="6" fill="#fff"/>
<rect x="594" y="368" width="1" height="5" fill="#fff"/>
<rect x="593" y="374" width="4" height="6" fill="#fff"/>
<rect x="600" y="368" width="1" height="5" fill="#fff"/>
<rect x="599" y="374" width="4" height="6" fill="#fff"/>
<rect x="606" y="368" width="1" height="5" fill="#fff"/>
<rect x="605" y="374" width="4" height="6" fill="#fff"/>
<rect x="612" y="368" width="1" height="5" fill="#fff"/>
<rect x="611" y="374" width="4" height="6" fill="#fff"/>
<rect x="618" y="368" width="1" height="5" fill="#fff"/>
<rect x="617" y="374" width="4" height="6" fill="#fff"/>
<rect x="624" y="368" width="1" height="5" fill="#fff"/>
<rect x="623" y="374" width="4" height="6" fill="#fff"/>
<rect x="630" y="368" width="1" height="5" fill="#fff"/>
<rect x="629" y="374" width="4" height="6" fill="#fff"/>
<rect x="636" y="368" width="1" height="5" fill="#fff"/>
<rect x="635" y="374" width="4" height="6" fill="#fff"/>
<rect x="646" y="366" width="8" height="6" fill="#000"/>
<rect x="644" y="371" width="10" height="10" fill="#000"/>
<rect x="647" y="366" width="6" height="4" fill="#fff"/>
<rect x="645" y="372" width="7" height="8" fill="#fff"/>
<rect x="654" y="366" width="4" height="16" fill="#000"/>
<rect x="658" y="372" width="7" height="1" fill="#000"/>
<rect x="658" y="379" width="7" height="1" fill="#000"/>
<rect x="440" y="388" width="226" height="19" fill="#000"/>
<rect x="441" y="389" width="224" height="17" fill="#fff"/>
<rect x="441" y="395" width="6" height="1" fill="#000"/>
<rect x="441" y="402" width="6" height="1" fill="#000"/>
<rect x="447" y="389" width="4" height="16" fill="#000"/>
<rect x="451" y="389" width="8" height="6" fill="#000"/>
<rect x="451" y="394" width="10" height="10" fill="#000"/>
<rect x="452" y="389" width="6" height="4" fill="#fff"/>
<rect x="453" y="395" width="7" height="8" fill="#fff"/>
<rect x="465" y="390" width="175" height="15" fill="#000"/>
<rect x="469" y="391" width="1" height="5" fill="#fff"/>
<rect x="468" y="397" width="4" height="6" fill="#fff"/>
<rect x="475" y="391" width="1" height="5" fill="#fff"/>
<rect x="474" y="397" width="4" height="6" fill="#fff"/>
<rect x="481" y="391" width="1" height="5" fill="#fff"/>
<rect x="480" y="397" width="4" height="6" fill="#fff"/>
<rect x="487" y="391" width="1" height="5" fill="#fff"/>
<rect x="486" y="397" width="4" height="6" fill="#fff"/>
<rect x="493" y="391" width="1" height="5" fill="#fff"/>
<rect x="492" y="397" width="4" height="6" fill="#fff"/>
<rect x="499" y="391" width="1" height="5" fill="#fff"/>
<rect x="498" y="397" width="4" height="6" fill="#fff"/>
<rect x="505" y="391" width="1" height="5" fill="#fff"/>
<rect x="504" y="397" width="4" height="6" fill="#fff"/>
<rect x="511" y="391" width="1" height="5" fill="#fff"/>
<rect x="510" y="397" width="4" height="6" fill="#fff"/>
<rect x="517" y="391" width="1" height="5" fill="#fff"/>
<rect x="516" y="397" width="4" height="6" fill="#fff"/>
<rect x="523" y="391" width="1" height="5" fill="#fff"/>
<rect x="522" y="397" width="4" height="6" fill="#fff"/>
<rect x="528" y="391" width="1" height="5" fill="#fff"/>
<rect x="528" y="397" width="4" height="6" fill="#fff"/>
<rect x="534" y="391" width="1" height="5" fill="#fff"/>
<rect x="533" y="397" width="4" height="6" fill="#fff"/>
<rect x="540" y="391" width="1" height="5" fill="#fff"/>
<rect x="539" y="397" width="4" height="6" fill="#fff"/>
<rect x="546" y="391" width="1" height="5" fill="#fff"/>
<rect x="545" y="397" width="4" height="6" fill="#fff"/>
<rect x="552" y="391" width="1" height="5" fill="#fff"/>
<rect x="551" y="397" width="4" height="6" fill="#fff"/>
<rect x="558" y="391" width="1" height="5" fill="#fff"/>
<rect x="557" y="397" width="4" height="6" fill="#fff"/>
<rect x="564" y="391" width="1" height="5" fill="#fff"/>
<rect x="563" y="397" width="4" height="6" fill="#fff"/>
<rect x="570" y="391" width="1" height="5" fill="#fff"/>
<rect x="569" y="397" width="4" height="6" fill="#fff"/>
<rect x="576" y="391" width="1" height="5" fill="#fff"/>
<rect x="575" y="397" width="4" height="6" fill="#fff"/>
<rect x="582" y="391" width="1" height="5" fill="#fff"/>
<rect x="581" y="397" width="4" height="6" fill="#fff"/>
<rect x="588" y="391" width="1" height="5" fill="#fff"/>
<rect x="587" y="397" width="4" height="6" fill="#fff"/>
<rect x="594" y="391" width="1" height="5" fill="#fff"/>
<rect x="593" y="397" width="4" height="6" fill="#fff"/>
<rect x="600" y="391" width="1" height="5" fill="#fff"/>
<rect x="599" y="397" width="4" height="6" fill="#fff"/>
<rect x="606" y="391" width="1" height="5" fill="#fff"/>
<rect x="605" y="397" width="4" height="6" fill="#fff"/>
<rect x="612" y="391" width="1" height="5" fill="#fff"/>
<rect x="611" y="397" width="4" height="6" fill="#fff"/>
<rect x="618" y="391" width="1" height="5" fill="#fff"/>
<rect x="617" y="397" width="4" height="6" fill="#fff"/>
<rect x="624" y="391" width="1" height="5" fill="#fff"/>
<rect x="623" y="397" width="4" height="6" fill="#fff"/>
<rect x="630" y="391" width="1" height="5" fill="#fff"/>
<rect x="629" y="397" width="4" height="6" fill="#fff"/>
<rect x="636" y="391" width="1" height="5" fill="#fff"/>
<rect x="635" y="397" width="4" height="6" fill="#fff"/>
<rect x="646" y="389" width="8" height="6" fill="#000"/>
<rect x="644" y="394" width="10" height="10" fill="#000"/>
<rect x="647" y="389" width="6" height="4" fill="#fff"/>
<rect x="645" y="395" width="7" height="8" fill="#fff"/>
<rect x="654" y="389" width="4" height="16" fill="#000"/>
<rect x="658" y="395" width="7" height="1" fill="#000"/>
<rect x="658" y="402" width="7" height="1" fill="#000"/>
<rect x="440" y="408" width="226" height="19" fill="#000"/>
<rect x="441" y="409" width="224" height="17" fill="#fff"/>
<rect x="441" y="415" width="6" height="1" fill="#000"/>
<rect x="441" y="422" width="6" height="1" fill="#000"/>
<rect x="447" y="409" width="4" height="16" fill="#000"/>
<rect x="451" y="409" width="8" height="6" fill="#000"/>
<rect x="451" y="414" width="10" height="10" fill="#000"/>
<rect x="452" y="409" width="6" height="4" fill="#fff"/>
<rect x="453" y="415" width="7" height="8" fill="#fff"/>
<rect x="465" y="410" width="175" height="15" fill="#000"/>
<rect x="469" y="411" width="1" height="5" fill="#fff"/>
<rect x="468" y="417" width="4" height="6" fill="#fff"/>
<rect x="475" y="411" width="1" height="5" fill="#fff"/>
<rect x="474" y="417" width="4" height="6" fill="#fff"/>
<rect x="481" y="411" width="1" height="5" fill="#fff"/>
<rect x="480" y="417" width="4" height="6" fill="#fff"/>
<rect x="487" y="411" width="1" height="5" fill="#fff"/>
<rect x="486" y="417" width="4" height="6" fill="#fff"/>
<rect x="493" y="411" width="1" height="5" fill="#fff"/>
<rect x="492" y="417" width="4" height="6" fill="#fff"/>
<rect x="499" y="411" width="1" height="5" fill="#fff"/>
<rect x="498" y="417" width="4" height="6" fill="#fff"/>
<rect x="505" y="411" width="1" height="5" fill="#fff"/>
<rect x="504" y="417" width="4" height="6" fill="#fff"/>
<rect x="511" y="411" width="1" height="5" fill="#fff"/>
<rect x="510" y="417" width="4" height="6" fill="#fff"/>
<rect x="517" y="411" width="1" height="5" fill="#fff"/>
<rect x="516" y="417" width="4" height="6" fill="#fff"/>
<rect x="523" y="411" width="1" height="5" fill="#fff"/>
<rect x="522" y="417" width="4" height="6" fill="#fff"/>
<rect x="528" y="411" width="1" height="5" fill="#fff"/>
<rect x="528" y="417" width="4" height="6" fill="#fff"/>
<rect x="534" y="411" width="1" height="5" fill="#fff"/>
<rect x="533" y="417" width="4" height="6" fill="#fff"/>
<rect x="540" y="411" width="1" height="5" fill="#fff"/>
<rect x="539" y="417" width="4" height="6" fill="#fff"/>
<rect x="546" y="411" width="1" height="5" fill="#fff"/>
<rect x="545" y="417" width="4" height="6" fill="#fff"/>
<rect x="552" y="411" width="1" height="5" fill="#fff"/>
<rect x="551" y="417" width="4" height="6" fill="#fff"/>
<rect x="558" y="411" width="1" height="5" fill="#fff"/>
<rect x="557" y="417" width="4" height="6" fill="#fff"/>
<rect x="564" y="411" width="1" height="5" fill="#fff"/>
<rect x="563" y="417" width="4" height="6" fill="#fff"/>
<rect x="570" y="411" width="1" height="5" fill="#fff"/>
<rect x="569" y="417" width="4" height="6" fill="#fff"/>
<rect x="576" y="411" width="1" height="5" fill="#fff"/>
<rect x="575" y="417" width="4" height="6" fill="#fff"/>
<rect x="582" y="411" width="1" height="5" fill="#fff"/>
<rect x="581" y="417" width="4" height="6" fill="#fff"/>
<rect x="588" y="411" width="1" height="5" fill="#fff"/>
<rect x="587" y="417" width="4" height="6" fill="#fff"/>
<rect x="594" y="411" width="1" height="5" fill="#fff"/>
<rect x="593" y="417" width="4" height="6" fill="#fff"/>
<rect x="600" y="411" width="1" height="5" fill="#fff"/>
<rect x="599" y="417" width="4" height="6" fill="#fff"/>
<rect x="606" y="411" width="1" height="5" fill="#fff"/>
<rect x="605" y="417" width="4" height="6" fill="#fff"/>
<rect x="612" y="411" width="1" height="5" fill="#fff"/>
<rect x="611" y="417" width="4" height="6" fill="#fff"/>
<rect x="618" y="411" width="1" height="5" fill="#fff"/>
<rect x="617" y="417" width="4" height="6" fill="#fff"/>
<rect x="624" y="411" width="1" height="5" fill="#fff"/>
<rect x="623" y="417" width="4" height="6" fill="#fff"/>
<rect x="630" y="411" width="1" height="5" fill="#fff"/>
<rect x="629" y="417" width="4" height="6" fill="#fff"/>
<rect x="636" y="411" width="1" height="5" fill="#fff"/>
<rect x="635" y="417" width="4" height="6" fill="#fff"/>
<rect x="646" y="409" width="8" height="6" fill="#000"/>
<rect x="644" y="414" width="10" height="10" fill="#000"/>
<rect x="647" y="409" width="6" height="4" fill="#fff"/>
<rect x="645" y="415" width="7" height="8" fill="#fff"/>
<rect x="654" y="409" width="4" height="16" fill="#000"/>
<rect x="658" y="415" width="7" height="1" fill="#000"/>
<rect x="658" y="422" width="7" height="1" fill="#000"/>
<rect x="440" y="434" width="226" height="19" fill="#000"/>
<rect x="441" y="435" width="224" height="17" fill="#fff"/>
<rect x="441" y="441" width="6" height="1" fill="#000"/>
<rect x="441" y="448" width="6" height="1" fill="#000"/>
<rect x="447" y="435" width="4" height="16" fill="#000"/>
<rect x="451" y="435" width="8" height="6" fill="#000"/>
<rect x="451" y="440" width="10" height="10" fill="#000"/>
<rect x="452" y="435" width="6" height="4" fill="#fff"/>
<rect x="453" y="441" width="7" height="8" fill="#fff"/>
<rect x="465" y="436" width="175" height="15" fill="#000"/>
<rect x="469" y="437" width="1" height="5" fill="#fff"/>
<rect x="468" y="443" width="4" height="6" fill="#fff"/>
<rect x="475" y="437" width="1" height="5" fill="#fff"/>
<rect x="474" y="443" width="4" height="6" fill="#fff"/>
<rect x="481" y="437" width="1" height="5" fill="#fff"/>
<rect x="480" y="443" width="4" height="6" fill="#fff"/>
<rect x="487" y="437" width="1" height="5" fill="#fff"/>
<rect x="486" y="443" width="4" height="6" fill="#fff"/>
<rect x="493" y="437" width="1" height="5" fill="#fff"/>
<rect x="492" y="443" width="4" height="6" fill="#fff"/>
<rect x="499" y="437" width="1" height="5" fill="#fff"/>
<rect x="498" y="443" width="4" height="6" fill="#fff"/>
<rect x="505" y="437" width="1" height="5" fill="#fff"/>
<rect x="504" y="443" width="4" height="6" fill="#fff"/>
<rect x="511" y="437" width="1" height="5" fill="#fff"/>
<rect x="510" y="443" width="4" height="6" fill="#fff"/>
<rect x="517" y="437" width="1" height="5" fill="#fff"/>
<rect x="516" y="443" width="4" height="6" fill="#fff"/>
<rect x="523" y="437" width="1" height="5" fill="#fff"/>
<rect x="522" y="443" width="4" height="6" fill="#fff"/>
<rect x="528" y="437" width="1" height="5" fill="#fff"/>
<rect x="528" y="443" width="4" height="6" fill="#fff"/>
<rect x="534" y="437" width="1" height="5" fill="#fff"/>
<rect x="533" y="443" width="4" height="6" fill="#fff"/>
<rect x="540" y="437" width="1" height="5" fill="#fff"/>
<rect x="539" y="443" width="4" height="6" fill="#fff"/>
<rect x="546" y="437" width="1" height="5" fill="#fff"/>
<rect x="545" y="443" width="4" height="6" fill="#fff"/>
<rect x="552" y="437" width="1" height="5" fill="#fff"/>
<rect x="551" y="443" width="4" height="6" fill="#fff"/>
<rect x="558" y="437" width="1" height="5" fill="#fff"/>
<rect x="557" y="443" width="4" height="6" fill="#fff"/>
<rect x="564" y="437" width="1" height="5" fill="#fff"/>
<rect x="563" y="443" width="4" height="6" fill="#fff"/>
<rect x="570" y="437" width="1" height="5" fill="#fff"/>
<rect x="569" y="443" width="4" height="6" fill="#fff"/>
<rect x="576" y="437" width="1" height="5" fill="#fff"/>
<rect x="575" y="443" width="4" height="6" fill="#fff"/>
<rect x="582" y="437" width="1" height="5" fill="#fff"/>
<rect x="581" y="443" width="4" height="6" fill="#fff"/>
<rect x="588" y="437" width="1" height="5" fill="#fff"/>
<rect x="587" y="443" width="4" height="6" fill="#fff"/>
<rect x="594" y="437" width="1" height="5" fill="#fff"/>
<rect x="593" y="443" width="4" height="6" fill="#fff"/>
<rect x="600" y="437" width="1" height="5" fill="#fff"/>
<rect x="599" y="443" width="4" height="6" fill="#fff"/>
<rect x="606" y="437" width="1" height="5" fill="#fff"/>
<rect x="605" y="443" width="4" height="6" fill="#fff"/>
<rect x="612" y="437" width="1" height="5" fill="#fff"/>
<rect x="611" y="443" width="4" height="6" fill="#fff"/>
<rect x="618" y="437" width="1" height="5" fill="#fff"/>
<rect x="617" y="443" width="4" height="6" fill="#fff"/>
<rect x="624" y="437" width="1" height="5" fill="#fff"/>
<rect x="623" y="443" width="4" height="6" fill="#fff"/>
<rect x="630" y="437" width="1" height="5" fill="#fff"/>
<rect x="629" y="443" width="4" height="6" fill="#fff"/>
<rect x="636" y="437" width="1" height="5" fill="#fff"/>
<rect x="635" y="443" width="4" height="6" fill="#fff"/>
<rect x="646" y="435" width="8" height="6" fill="#000"/>
<rect x="644" y="440" width="10" height="10" fill="#000"/>
<rect x="647" y="435" width="6" height="4" fill="#fff"/>
<rect x="645" y="441" width="7" height="8" fill="#fff"/>
<rect x="654" y="435" width="4" height="16" fill="#000"/>
<rect x="658" y="441" width="7" height="1" fill="#000"/>
<rect x="658" y="448" width="7" height="1" fill="#000"/>
<rect x="439" y="441" width="8" height="8" fill="#000"/>
<rect x="440" y="442" width="6" height="6" fill="#fff"/>
<rect x="446" y="435" width="1" height="16" fill="#000"/>
<rect x="447" y="436" width="1" height="14" fill="#fff"/>
<rect x="656" y="436" width="1" height="14" fill="#fff"/>
<rect x="440" y="454" width="226" height="19" fill="#000"/>
<rect x="441" y="455" width="224" height="17" fill="#fff"/>
<rect x="441" y="461" width="6" height="1" fill="#000"/>
<rect x="441" y="468" width="6" height="1" fill="#000"/>
<rect x="447" y="455" width="4" height="16" fill="#000"/>
<rect x="451" y="455" width="8" height="6" fill="#000"/>
<rect x="451" y="460" width="10" height="10" fill="#000"/>
<rect x="452" y="455" width="6" height="4" fill="#fff"/>
<rect x="453" y="461" width="7" height="8" fill="#fff"/>
<rect x="465" y="456" width="175" height="15" fill="#000"/>
<rect x="469" y="457" width="1" height="5" fill="#fff"/>
<rect x="468" y="463" width="4" height="6" fill="#fff"/>
<rect x="475" y="457" width="1" height="5" fill="#fff"/>
<rect x="474" y="463" width="4" height="6" fill="#fff"/>
<rect x="481" y="457" width="1" height="5" fill="#fff"/>
<rect x="480" y="463" width="4" height="6" fill="#fff"/>
<rect x="487" y="457" width="1" height="5" fill="#fff"/>
<rect x="486" y="463" width="4" height="6" fill="#fff"/>
<rect x="493" y="457" width="1" height="5" fill="#fff"/>
<rect x="492" y="463" width="4" height="6" fill="#fff"/>
<rect x="499" y="457" width="1" height="5" fill="#fff"/>
<rect x="498" y="463" width="4" height="6" fill="#fff"/>
<rect x="505" y="457" width="1" height="5" fill="#fff"/>
<rect x="504" y="463" width="4" height="6" fill="#fff"/>
<rect x="511" y="457" width="1" height="5" fill="#fff"/>
<rect x="510" y="463" width="4" height="6" fill="#fff"/>
<rect x="517" y="457" width="1" height="5" fill="#fff"/>
<rect x="516" y="463" width="4" height="6" fill="#fff"/>
<rect x="523" y="457" width="1" height="5" fill="#fff"/>
<rect x="522" y="463" width="4" height="6" fill="#fff"/>
<rect x="528" y="457" width="1" height="5" fill="#fff"/>
<rect x="528" y="463" width="4" height="6" fill="#fff"/>
<rect x="534" y="457" width="1" height="5" fill="#fff"/>
<rect x="533" y="463" width="4" height="6" fill="#fff"/>
<rect x="540" y="457" width="1" height="5" fill="#fff"/>
<rect x="539" y="463" width="4" height="6" fill="#fff"/>
<rect x="546" y="457" width="1" height="5" fill="#fff"/>
<rect x="545" y="463" width="4" height="6" fill="#fff"/>
<rect x="552" y="457" width="1" height="5" fill="#fff"/>
<rect x="551" y="463" width="4" height="6" fill="#fff"/>
<rect x="558" y="457" width="1" height="5" fill="#fff"/>
<rect x="557" y="463" width="4" height="6" fill="#fff"/>
<rect x="564" y="457" width="1" height="5" fill="#fff"/>
<rect x="563" y="463" width="4" height="6" fill="#fff"/>
<rect x="570" y="457" width="1" height="5" fill="#fff"/>
<rect x="569" y="463" width="4" height="6" fill="#fff"/>
<rect x="576" y="457" width="1" height="5" fill="#fff"/>
<rect x="575" y="463" width="4" height="6" fill="#fff"/>
<rect x="582" y="457" width="1" height="5" fill="#fff"/>
<rect x="581" y="463" width="4" height="6" fill="#fff"/>
<rect x="588" y="457" width="1" height="5" fill="#fff"/>
<rect x="587" y="463" width="4" height="6" fill="#fff"/>
<rect x="594" y="457" width="1" height="5" fill="#fff"/>
<rect x="593" y="463" width="4" height="6" fill="#fff"/>
<rect x="600" y="457" width="1" height="5" fill="#fff"/>
<rect x="599" y="463" width="4" height="6" fill="#fff"/>
<rect x="606" y="457" width="1" height="5" fill="#fff"/>
<rect x="605" y="463" width="4" height="6" fill="#fff"/>
<rect x="612" y="457" width="1" height="5" fill="#fff"/>
<rect x="611" y="463" width="4" height="6" fill="#fff"/>
<rect x="618" y="457" width="1" height="5" fill="#fff"/>
<rect x="617" y="463" width="4" height="6" fill="#fff"/>
<rect x="624" y="457" width="1" height="5" fill="#fff"/>
<rect x="623" y="463" width="4" height="6" fill="#fff"/>
<rect x="630" y="457" width="1" height="5" fill="#fff"/>
<rect x="629" y="463" width="4" height="6" fill="#fff"/>
<rect x="636" y="457" width="1" height="5" fill="#fff"/>
<rect x="635" y="463" width="4" height="6" fill="#fff"/>
<rect x="646" y="455" width="8" height="6" fill="#000"/>
<rect x="644" y="460" width="10" height="10" fill="#000"/>
<rect x="647" y="455" width="6" height="4" fill="#fff"/>
<rect x="645" y="461" width="7" height="8" fill="#fff"/>
<rect x="654" y="455" width="4" height="16" fill="#000"/>
<rect x="658" y="461" width="7" height="1" fill="#000"/>
<rect x="658" y="468" width="7" height="1" fill="#000"/>
<rect x="439" y="461" width="8" height="8" fill="#000"/>
<rect x="440" y="462" width="6" height="6" fill="#fff"/>
<rect x="446" y="455" width="1" height="16" fill="#000"/>
<rect x="447" y="456" width="1" height="14" fill="#fff"/>
<rect x="656" y="456" width="1" height="14" fill="#fff"/>
<rect x="440" y="478" width="226" height="19" fill="#000"/>
<rect x="441" y="479" width="224" height="17" fill="#fff"/>
<rect x="441" y="485" width="6" height="1" fill="#000"/>
<rect x="441" y="492" width="6" height="1" fill="#000"/>
<rect x="447" y="479" width="4" height="16" fill="#000"/>
<rect x="451" y="479" width="8" height="6" fill="#000"/>
<rect x="451" y="484" width="10" height="10" fill="#000"/>
<rect x="452" y="479" width="6" height="4" fill="#fff"/>
<rect x="453" y="485" width="7" height="8" fill="#fff"/>
<rect x="465" y="480" width="175" height="15" fill="#000"/>
<rect x="469" y="481" width="1" height="5" fill="#fff"/>
<rect x="468" y="487" width="4" height="6" fill="#fff"/>
<rect x="475" y="481" width="1" height="5" fill="#fff"/>
<rect x="474" y="487" width="4" height="6" fill="#fff"/>
<rect x="481" y="481" width="1" height="5" fill="#fff"/>
<rect x="480" y="487" width="4" height="6" fill="#fff"/>
<rect x="487" y="481" width="1" height="5" fill="#fff"/>
<rect x="486" y="487" width="4" height="6" fill="#fff"/>
<rect x="493" y="481" width="1" height="5" fill="#fff"/>
<rect x="492" y="487" width="4" height="6" fill="#fff"/>
<rect x="499" y="481" width="1" height="5" fill="#fff"/>
<rect x="498" y="487" width="4" height="6" fill="#fff"/>
<rect x="505" y="481" width="1" height="5" fill="#fff"/>
<rect x="504" y="487" width="4" height="6" fill="#fff"/>
<rect x="511" y="481" width="1" height="5" fill="#fff"/>
<rect x="510" y="487" width="4" height="6" fill="#fff"/>
<rect x="517" y="481" width="1" height="5" fill="#fff"/>
<rect x="516" y="487" width="4" height="6" fill="#fff"/>
<rect x="523" y="481" width="1" height="5" fill="#fff"/>
<rect x="522" y="487" width="4" height="6" fill="#fff"/>
<rect x="528" y="481" width="1" height="5" fill="#fff"/>
<rect x="528" y="487" width="4" height="6" fill="#fff"/>
<rect x="534" y="481" width="1" height="5" fill="#fff"/>
<rect x="533" y="487" width="4" height="6" fill="#fff"/>
<rect x="540" y="481" width="1" height="5" fill="#fff"/>
<rect x="539" y="487" width="4" height="6" fill="#fff"/>
<rect x="546" y="481" width="1" height="5" fill="#fff"/>
<rect x="545" y="487" width="4" height="6" fill="#fff"/>
<rect x="552" y="481" width="1" height="5" fill="#fff"/>
<rect x="551" y="487" width="4" height="6" fill="#fff"/>
<rect x="558" y="481" width="1" height="5" fill="#fff"/>
<rect x="557" y="487" width="4" height="6" fill="#fff"/>
<rect x="564" y="481" width="1" height="5" fill="#fff"/>
<rect x="563" y="487" width="4" height="6" fill="#fff"/>
<rect x="570" y="481" width="1" height="5" fill="#fff"/>
<rect x="569" y="487" width="4" height="6" fill="#fff"/>
<rect x="576" y="481" width="1" height="5" fill="#fff"/>
<rect x="575" y="487" width="4" height="6" fill="#fff"/>
<rect x="582" y="481" width="1" height="5" fill="#fff"/>
<rect x="581" y="487" width="4" height="6" fill="#fff"/>
<rect x="588" y="481" width="1" height="5" fill="#fff"/>
<rect x="587" y="487" width="4" height="6" fill="#fff"/>
<rect x="594" y="481" width="1" height="5" fill="#fff"/>
<rect x="593" y="487" width="4" height="6" fill="#fff"/>
<rect x="600" y="481" width="1" height="5" fill="#fff"/>
<rect x="599" y="487" width="4" height="6" fill="#fff"/>
<rect x="606" y="481" width="1" height="5" fill="#fff"/>
<rect x="605" y="487" width="4" height="6" fill="#fff"/>
<rect x="612" y="481" width="1" height="5" fill="#fff"/>
<rect x="611" y="487" width="4" height="6" fill="#fff"/>
<rect x="618" y="481" width="1" height="5" fill="#fff"/>
<rect x="617" y="487" width="4" height="6" fill="#fff"/>
<rect x="624" y="481" width="1" height="5" fill="#fff"/>
<rect x="623" y="487" width="4" height="6" fill="#fff"/>
<rect x="630" y="481" width="1" height="5" fill="#fff"/>
<rect x="629" y="487" width="4" height="6" fill="#fff"/>
<rect x="636" y="481" width="1" height="5" fill="#fff"/>
<rect x="635" y="487" width="4" height="6" fill="#fff"/>
<rect x="646" y="479" width="8" height="6" fill="#000"/>
<rect x="644" y="484" width="10" height="10" fill="#000"/>
<rect x="647" y="479" width="6" height="4" fill="#fff"/>
<rect x="645" y="485" width="7" height="8" fill="#fff"/>
<rect x="654" y="479" width="4" height="16" fill="#000"/>
<rect x="658" y="485" width="7" height="1" fill="#000"/>
<rect x="658" y="492" width="7" height="1" fill="#000"/>
<rect x="439" y="485" width="8" height="8" fill="#000"/>
<rect x="440" y="486" width="6" height="6" fill="#fff"/>
<rect x="446" y="479" width="1" height="16" fill="#000"/>
<rect x="447" y="480" width="1" height="14" fill="#fff"/>
<rect x="656" y="480" width="1" height="14" fill="#fff"/>
<rect x="440" y="498" width="226" height="19" fill="#000"/>
<rect x="441" y="499" width="224" height="17" fill="#fff"/>
<rect x="441" y="505" width="6" height="1" fill="#000"/>
<rect x="441" y="512" width="6" height="1" fill="#000"/>
<rect x="447" y="499" width="4" height="16" fill="#000"/>
<rect x="451" y="499" width="8" height="6" fill="#000"/>
<rect x="451" y="504" width="10" height="10" fill="#000"/>
<rect x="452" y="499" width="6" height="4" fill="#fff"/>
<rect x="453" y="505" width="7" height="8" fill="#fff"/>
<rect x="465" y="500" width="175" height="15" fill="#000"/>
<rect x="469" y="501" width="1" height="5" fill="#fff"/>
<rect x="468" y="507" width="4" height="6" fill="#fff"/>
<rect x="475" y="501" width="1" height="5" fill="#fff"/>
<rect x="474" y="507" width="4" height="6" fill="#fff"/>
<rect x="481" y="501" width="1" height="5" fill="#fff"/>
<rect x="480" y="507" width="4" height="6" fill="#fff"/>
<rect x="487" y="501" width="1" height="5" fill="#fff"/>
<rect x="486" y="507" width="4" height="6" fill="#fff"/>
<rect x="493" y="501" width="1" height="5" fill="#fff"/>
<rect x="492" y="507" width="4" height="6" fill="#fff"/>
<rect x="499" y="501" width="1" height="5" fill="#fff"/>
<rect x="498" y="507" width="4" height="6" fill="#fff"/>
<rect x="505" y="501" width="1" height="5" fill="#fff"/>
<rect x="504" y="507" width="4" height="6" fill="#fff"/>
<rect x="511" y="501" width="1" height="5" fill="#fff"/>
<rect x="510" y="507" width="4" height="6" fill="#fff"/>
<rect x="517" y="501" width="1" height="5" fill="#fff"/>
<rect x="516" y="507" width="4" height="6" fill="#fff"/>
<rect x="523" y="501" width="1" height="5" fill="#fff"/>
<rect x="522" y="507" width="4" height="6" fill="#fff"/>
<rect x="528" y="501" width="1" height="5" fill="#fff"/>
<rect x="528" y="507" width="4" height="6" fill="#fff"/>
<rect x="534" y="501" width="1" height="5" fill="#fff"/>
<rect x="533" y="507" width="4" height="6" fill="#fff"/>
<rect x="540" y="501" width="1" height="5" fill="#fff"/>
<rect x="539" y="507" width="4" height="6" fill="#fff"/>
<rect x="546" y="501" width="1" height="5" fill="#fff"/>
<rect x="545" y="507" width="4" height="6" fill="#fff"/>
<rect x="552" y="501" width="1" height="5" fill="#fff"/>
<rect x="551" y="507" width="4" height="6" fill="#fff"/>
<rect x="558" y="501" width="1" height="5" fill="#fff"/>
<rect x="557" y="507" width="4" height="6" fill="#fff"/>
<rect x="564" y="501" width="1" height="5" fill="#fff"/>
<rect x="563" y="507" width="4" height="6" fill="#fff"/>
<rect x="570" y="501" width="1" height="5" fill="#fff"/>
<rect x="569" y="507" width="4" height="6" fill="#fff"/>
<rect x="576" y="501" width="1" height="5" fill="#fff"/>
<rect x="575" y="507" width="4" height="6" fill="#fff"/>
<rect x="582" y="501" width="1" height="5" fill="#fff"/>
<rect x="581" y="507" width="4" height="6" fill="#fff"/>
<rect x="588" y="501" width="1" height="5" fill="#fff"/>
<rect x="587" y="507" width="4" height="6" fill="#fff"/>
<rect x="594" y="501" width="1" height="5" fill="#fff"/>
<rect x="593" y="507" width="4" height="6" fill="#fff"/>
<rect x="600" y="501" width="1" height="5" fill="#fff"/>
<rect x="599" y="507" width="4" height="6" fill="#fff"/>
<rect x="606" y="501" width="1" height="5" fill="#fff"/>
<rect x="605" y="507" width="4" height="6" fill="#fff"/>
<rect x="612" y="501" width="1" height="5" fill="#fff"/>
<rect x="611" y="507" width="4" height="6" fill="#fff"/>
<rect x="618" y="501" width="1" height="5" fill="#fff"/>
<rect x="617" y="507" width="4" height="6" fill="#fff"/>
<rect x="624" y="501" width="1" height="5" fill="#fff"/>
<rect x="623" y="507" width="4" height="6" fill="#fff"/>
<rect x="630" y="501" width="1" height="5" fill="#fff"/>
<rect x="629" y="507" width="4" height="6" fill="#fff"/>
<rect x="636" y="501" width="1" height="5" fill="#fff"/>
<rect x="635" y="507" width="4" height="6" fill="#fff"/>
<rect x="646" y="499" width="8" height="6" fill="#000"/>
<rect x="644" y="504" width="10" height="10" fill="#000"/>
<rect x="647" y="499" width="6" height="4" fill="#fff"/>
<rect x="645" y="505" width="7" height="8" fill="#fff"/>
<rect x="654" y="499" width="4" height="16" fill="#000"/>
<rect x="658" y="505" width="7" height="1" fill="#000"/>
<rect x="658" y="512" width="7" height="1" fill="#000"/>
<rect x="439" y="505" width="8" height="8" fill="#000"/>
<rect x="440" y="506" width="6" height="6" fill="#fff"/>
<rect x="446" y="499" width="1" height="16" fill="#000"/>
<rect x="447" y="500" width="1" height="14" fill="#fff"/>
<rect x="656" y="500" width="1" height="14" fill="#fff"/>
<rect x="543" y="348" width="20" height="76" rx="3" fill="#000"/>
<rect x="545" y="350" width="16" height="72" fill="#fff"/>
<text transform="translate(553,359.6) scale(0.78,1)" text-anchor="middle" font-size="13">B</text>
<text transform="translate(553,376.3) scale(0.78,1)" text-anchor="middle" font-size="13">A</text>
<text transform="translate(553,390) scale(0.78,1)" text-anchor="middle" font-size="13">N</text>
<text transform="translate(553,404.5) scale(0.78,1)" text-anchor="middle" font-size="13">K</text>
<text transform="translate(553,420.7) scale(0.78,1)" text-anchor="middle" font-size="13">0</text>
<rect x="543" y="437" width="20" height="77" rx="3" fill="#000"/>
<rect x="545" y="439" width="16" height="73" fill="#fff"/>
<text transform="translate(552,449) scale(0.78,1)" text-anchor="middle" font-size="13">B</text>
<text transform="translate(552,465) scale(0.78,1)" text-anchor="middle" font-size="13">A</text>
<text transform="translate(552,479.5) scale(0.78,1)" text-anchor="middle" font-size="13">N</text>
<text transform="translate(552,494.5) scale(0.78,1)" text-anchor="middle" font-size="13">K</text>
<text transform="translate(552,510) scale(0.78,1)" text-anchor="middle" font-size="13">1</text>
<rect x="688" y="370" width="43" height="127" fill="#000"/>
<rect x="690" y="373" width="1" height="3" fill="#fff"/>
<rect x="690" y="379" width="1" height="3" fill="#fff"/>
<rect x="690" y="386" width="1" height="3" fill="#fff"/>
<rect x="690" y="392" width="1" height="3" fill="#fff"/>
<rect x="690" y="398" width="1" height="3" fill="#fff"/>
<rect x="690" y="405" width="1" height="3" fill="#fff"/>
<rect x="690" y="411" width="1" height="3" fill="#fff"/>
<rect x="690" y="417" width="1" height="3" fill="#fff"/>
<rect x="690" y="423" width="1" height="3" fill="#fff"/>
<rect x="690" y="430" width="1" height="3" fill="#fff"/>
<rect x="690" y="436" width="1" height="3" fill="#fff"/>
<rect x="690" y="442" width="1" height="3" fill="#fff"/>
<rect x="690" y="449" width="1" height="3" fill="#fff"/>
<rect x="690" y="455" width="1" height="3" fill="#fff"/>
<rect x="690" y="461" width="1" height="3" fill="#fff"/>
<rect x="690" y="468" width="1" height="3" fill="#fff"/>
<rect x="690" y="474" width="1" height="3" fill="#fff"/>
<rect x="690" y="480" width="1" height="3" fill="#fff"/>
<rect x="690" y="486" width="1" height="3" fill="#fff"/>
<rect x="690" y="493" width="1" height="3" fill="#fff"/>
<polygon points="704,497 706,495 714,495 716,497" fill="#fff"/>
<rect x="696" y="426" width="28" height="15" rx="2" fill="#fff"/>
<text transform="translate(698,438) scale(0.72,1)" x="-1" y="0" textLength="33.9611" lengthAdjust="spacing" font-size="14.5" fill="#000" >KBD</text>
<rect x="752" y="362" width="26" height="18" rx="3" fill="#000"/>
<rect x="754" y="365" width="21" height="13" fill="#fff"/>
<text transform="translate(758,375.7) scale(0.72,1)" x="-1" y="0" textLength="17.9889" lengthAdjust="spacing" font-size="14.5" fill="#000" >J1</text>
<polygon points="793,371 789,371 789,370 785,370 785,369 780,369 780,368 777,368 777,375 781,375 781,374 789,374 789,373 793,373" fill="#000"/>
<rect x="775" y="371" width="9" height="1" fill="#fff"/>
<rect x="793" y="368" width="26" height="7" fill="#000"/>
<rect x="794" y="369" width="24" height="1" fill="#fff"/>
<rect x="796" y="371" width="2" height="2" fill="#fff"/>
<rect x="800" y="370" width="1" height="4" fill="#fff"/>
<rect x="805" y="370" width="1" height="4" fill="#fff"/>
<rect x="811" y="370" width="1" height="4" fill="#fff"/>
<rect x="816" y="370" width="1" height="4" fill="#fff"/>
<rect x="756" y="393" width="25" height="113" fill="#000"/>
<rect x="757" y="394" width="23" height="111" fill="#fff"/>
<rect x="760" y="393" width="7" height="4" fill="#000"/>
<rect x="762" y="393" width="3" height="2" fill="#fff"/>
<rect x="767" y="394" width="1" height="3" fill="#000"/>
<rect x="772" y="394" width="1" height="111" fill="#000"/>
<rect x="760" y="399" width="7" height="7" fill="#000"/>
<rect x="761" y="400" width="5" height="5" fill="#fff"/>
<rect x="760" y="408" width="7" height="7" fill="#000"/>
<rect x="761" y="409" width="5" height="5" fill="#fff"/>
<rect x="760" y="418" width="7" height="7" fill="#000"/>
<rect x="761" y="419" width="5" height="5" fill="#fff"/>
<rect x="760" y="427" width="7" height="7" fill="#000"/>
<rect x="761" y="428" width="5" height="5" fill="#fff"/>
<rect x="760" y="437" width="7" height="7" fill="#000"/>
<rect x="761" y="438" width="5" height="5" fill="#fff"/>
<rect x="760" y="446" width="7" height="7" fill="#000"/>
<rect x="761" y="447" width="5" height="5" fill="#fff"/>
<rect x="760" y="455" width="7" height="7" fill="#000"/>
<rect x="761" y="456" width="5" height="5" fill="#fff"/>
<rect x="760" y="465" width="7" height="7" fill="#000"/>
<rect x="761" y="466" width="5" height="5" fill="#fff"/>
<rect x="760" y="474" width="7" height="7" fill="#000"/>
<rect x="761" y="475" width="5" height="5" fill="#fff"/>
<rect x="760" y="483" width="7" height="7" fill="#000"/>
<rect x="761" y="484" width="5" height="5" fill="#fff"/>
<rect x="760" y="493" width="7" height="7" fill="#000"/>
<rect x="761" y="494" width="5" height="5" fill="#fff"/>
<rect x="768" y="395" width="3" height="7" fill="#000"/>
<rect x="769" y="396" width="1" height="5" fill="#fff"/>
<rect x="775" y="395" width="2" height="7" fill="#000"/>
<rect x="773" y="397" width="5" height="3" fill="#000"/>
<rect x="768" y="404" width="3" height="7" fill="#000"/>
<rect x="769" y="405" width="1" height="5" fill="#fff"/>
<rect x="775" y="404" width="2" height="7" fill="#000"/>
<rect x="773" y="406" width="5" height="3" fill="#000"/>
<rect x="768" y="413" width="3" height="7" fill="#000"/>
<rect x="769" y="414" width="1" height="5" fill="#fff"/>
<rect x="775" y="413" width="2" height="7" fill="#000"/>
<rect x="773" y="415" width="5" height="3" fill="#000"/>
<rect x="768" y="423" width="3" height="7" fill="#000"/>
<rect x="769" y="424" width="1" height="5" fill="#fff"/>
<rect x="775" y="423" width="2" height="7" fill="#000"/>
<rect x="773" y="425" width="5" height="3" fill="#000"/>
<rect x="768" y="432" width="3" height="7" fill="#000"/>
<rect x="769" y="433" width="1" height="5" fill="#fff"/>
<rect x="775" y="432" width="2" height="7" fill="#000"/>
<rect x="773" y="434" width="5" height="3" fill="#000"/>
<rect x="768" y="441" width="3" height="7" fill="#000"/>
<rect x="769" y="442" width="1" height="5" fill="#fff"/>
<rect x="775" y="441" width="2" height="7" fill="#000"/>
<rect x="773" y="443" width="5" height="3" fill="#000"/>
<rect x="768" y="450" width="3" height="7" fill="#000"/>
<rect x="769" y="451" width="1" height="5" fill="#fff"/>
<rect x="775" y="450" width="2" height="7" fill="#000"/>
<rect x="773" y="452" width="5" height="3" fill="#000"/>
<rect x="768" y="460" width="3" height="7" fill="#000"/>
<rect x="769" y="461" width="1" height="5" fill="#fff"/>
<rect x="775" y="460" width="2" height="7" fill="#000"/>
<rect x="773" y="462" width="5" height="3" fill="#000"/>
<rect x="768" y="469" width="3" height="7" fill="#000"/>
<rect x="769" y="470" width="1" height="5" fill="#fff"/>
<rect x="775" y="469" width="2" height="7" fill="#000"/>
<rect x="773" y="471" width="5" height="3" fill="#000"/>
<rect x="768" y="478" width="3" height="7" fill="#000"/>
<rect x="769" y="479" width="1" height="5" fill="#fff"/>
<rect x="775" y="478" width="2" height="7" fill="#000"/>
<rect x="773" y="480" width="5" height="3" fill="#000"/>
<rect x="768" y="487" width="3" height="7" fill="#000"/>
<rect x="769" y="488" width="1" height="5" fill="#fff"/>
<rect x="775" y="487" width="2" height="7" fill="#000"/>
<rect x="773" y="489" width="5" height="3" fill="#000"/>
<rect x="768" y="496" width="3" height="7" fill="#000"/>
<rect x="769" y="497" width="1" height="5" fill="#fff"/>
<rect x="775" y="496" width="2" height="7" fill="#000"/>
<rect x="773" y="498" width="5" height="3" fill="#000"/>
<rect x="760" y="502" width="7" height="4" fill="#000"/>
<rect x="762" y="503" width="3" height="3" fill="#fff"/>
<rect x="796" y="410" width="29" height="37" fill="#000"/>
<rect x="820" y="405" width="5" height="46" fill="#000"/>
<rect x="823" y="403" width="2" height="51" fill="#000"/>
<rect x="789" y="418" width="5" height="9" fill="#000"/>
<rect x="790" y="419" width="3" height="7" fill="#fff"/>
<rect x="789" y="430" width="5" height="8" fill="#000"/>
<rect x="790" y="431" width="3" height="6" fill="#fff"/>
<rect x="793" y="416" width="4" height="25" fill="#000"/>
<rect x="794" y="417" width="2" height="23" fill="#fff"/>
<rect x="794" y="425" width="2" height="1" fill="#000"/>
<rect x="794" y="430" width="2" height="1" fill="#000"/>
<rect x="794" y="419" width="1" height="1" fill="#000"/>
<rect x="794" y="421" width="1" height="1" fill="#000"/>
<rect x="794" y="423" width="1" height="1" fill="#000"/>
<rect x="794" y="433" width="1" height="1" fill="#000"/>
<rect x="794" y="435" width="1" height="1" fill="#000"/>
<rect x="794" y="437" width="1" height="1" fill="#000"/>
</g>
</svg></body></html>
